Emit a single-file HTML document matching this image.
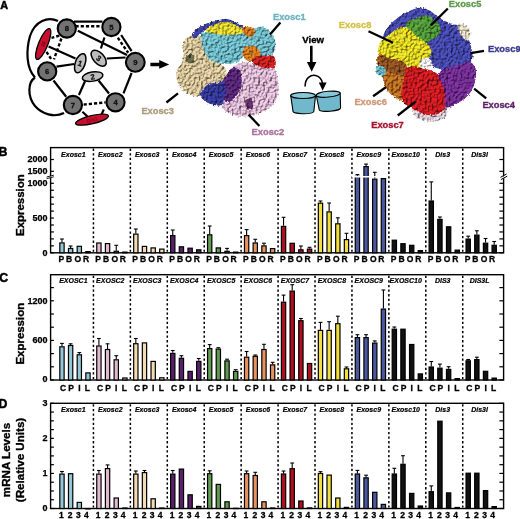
<!DOCTYPE html>
<html><head><meta charset="utf-8"><title>Exosome</title>
<style>html,body{margin:0;padding:0;background:#fff;}svg{display:block;will-change:transform;}svg text{font-family:"Liberation Sans",sans-serif;}</style>
</head><body>
<svg width="520" height="519" viewBox="0 0 520 519">
<rect width="520" height="519" fill="#fff"/>
<text x="0.2" y="8.7" font-family="Liberation Sans, sans-serif" font-weight="bold" font-size="10.8" stroke="#000" stroke-width="0.5">A</text>
<text x="-1.6" y="156.1" font-family="Liberation Sans, sans-serif" font-weight="bold" font-size="12.3" stroke="#000" stroke-width="0.5">B</text>
<text x="-0.8" y="282.1" font-family="Liberation Sans, sans-serif" font-weight="bold" font-size="12.3" stroke="#000" stroke-width="0.5">C</text>
<text x="-1.5" y="408.4" font-family="Liberation Sans, sans-serif" font-weight="bold" font-size="12.3" stroke="#000" stroke-width="0.5">D</text>
<rect x="50.6" y="147.6" width="453.0" height="105.20000000000002" fill="none" stroke="#000" stroke-width="1.4"/>
<line x1="93.43" y1="148.6" x2="93.43" y2="251.8" stroke="#000" stroke-width="1.5" stroke-dasharray="2.3,2.3"/>
<line x1="130.36" y1="148.6" x2="130.36" y2="251.8" stroke="#000" stroke-width="1.5" stroke-dasharray="2.3,2.3"/>
<line x1="167.29" y1="148.6" x2="167.29" y2="251.8" stroke="#000" stroke-width="1.5" stroke-dasharray="2.3,2.3"/>
<line x1="204.22" y1="148.6" x2="204.22" y2="251.8" stroke="#000" stroke-width="1.5" stroke-dasharray="2.3,2.3"/>
<line x1="241.15" y1="148.6" x2="241.15" y2="251.8" stroke="#000" stroke-width="1.5" stroke-dasharray="2.3,2.3"/>
<line x1="278.08" y1="148.6" x2="278.08" y2="251.8" stroke="#000" stroke-width="1.5" stroke-dasharray="2.3,2.3"/>
<line x1="315.01" y1="148.6" x2="315.01" y2="251.8" stroke="#000" stroke-width="1.5" stroke-dasharray="2.3,2.3"/>
<line x1="351.94" y1="148.6" x2="351.94" y2="251.8" stroke="#000" stroke-width="1.5" stroke-dasharray="2.3,2.3"/>
<line x1="388.87" y1="148.6" x2="388.87" y2="251.8" stroke="#000" stroke-width="1.5" stroke-dasharray="2.3,2.3"/>
<line x1="425.80" y1="148.6" x2="425.80" y2="251.8" stroke="#000" stroke-width="1.5" stroke-dasharray="2.3,2.3"/>
<line x1="462.73" y1="148.6" x2="462.73" y2="251.8" stroke="#000" stroke-width="1.5" stroke-dasharray="2.3,2.3"/>
<line x1="50.6" y1="252.80" x2="53.9" y2="252.80" stroke="#000" stroke-width="1.2"/>
<line x1="503.6" y1="252.80" x2="499.40000000000003" y2="252.80" stroke="#000" stroke-width="1.2"/>
<line x1="50.6" y1="245.85" x2="53.9" y2="245.85" stroke="#000" stroke-width="1.2"/>
<line x1="503.6" y1="245.85" x2="499.40000000000003" y2="245.85" stroke="#000" stroke-width="1.2"/>
<line x1="50.6" y1="238.90" x2="53.9" y2="238.90" stroke="#000" stroke-width="1.2"/>
<line x1="503.6" y1="238.90" x2="499.40000000000003" y2="238.90" stroke="#000" stroke-width="1.2"/>
<line x1="50.6" y1="231.95" x2="53.9" y2="231.95" stroke="#000" stroke-width="1.2"/>
<line x1="503.6" y1="231.95" x2="499.40000000000003" y2="231.95" stroke="#000" stroke-width="1.2"/>
<line x1="50.6" y1="225.00" x2="53.9" y2="225.00" stroke="#000" stroke-width="1.2"/>
<line x1="503.6" y1="225.00" x2="499.40000000000003" y2="225.00" stroke="#000" stroke-width="1.2"/>
<line x1="50.6" y1="218.05" x2="53.9" y2="218.05" stroke="#000" stroke-width="1.2"/>
<line x1="503.6" y1="218.05" x2="499.40000000000003" y2="218.05" stroke="#000" stroke-width="1.2"/>
<line x1="50.6" y1="211.10" x2="53.9" y2="211.10" stroke="#000" stroke-width="1.2"/>
<line x1="503.6" y1="211.10" x2="499.40000000000003" y2="211.10" stroke="#000" stroke-width="1.2"/>
<line x1="50.6" y1="204.15" x2="53.9" y2="204.15" stroke="#000" stroke-width="1.2"/>
<line x1="503.6" y1="204.15" x2="499.40000000000003" y2="204.15" stroke="#000" stroke-width="1.2"/>
<line x1="50.6" y1="197.20" x2="53.9" y2="197.20" stroke="#000" stroke-width="1.2"/>
<line x1="503.6" y1="197.20" x2="499.40000000000003" y2="197.20" stroke="#000" stroke-width="1.2"/>
<line x1="50.6" y1="190.25" x2="53.9" y2="190.25" stroke="#000" stroke-width="1.2"/>
<line x1="503.6" y1="190.25" x2="499.40000000000003" y2="190.25" stroke="#000" stroke-width="1.2"/>
<line x1="50.6" y1="183.30" x2="53.9" y2="183.30" stroke="#000" stroke-width="1.2"/>
<line x1="503.6" y1="183.30" x2="499.40000000000003" y2="183.30" stroke="#000" stroke-width="1.2"/>
<line x1="50.6" y1="171.30" x2="53.9" y2="171.30" stroke="#000" stroke-width="1.2"/>
<line x1="503.6" y1="171.30" x2="499.40000000000003" y2="171.30" stroke="#000" stroke-width="1.2"/>
<line x1="50.6" y1="159.50" x2="53.9" y2="159.50" stroke="#000" stroke-width="1.2"/>
<line x1="503.6" y1="159.50" x2="499.40000000000003" y2="159.50" stroke="#000" stroke-width="1.2"/>
<text x="47.6" y="162.14" font-family="Liberation Sans, sans-serif" font-weight="bold" font-size="9" text-anchor="end" stroke="#000" stroke-width="0.25">2000</text>
<text x="47.6" y="174.04" font-family="Liberation Sans, sans-serif" font-weight="bold" font-size="9" text-anchor="end" stroke="#000" stroke-width="0.25">1500</text>
<text x="47.6" y="185.64" font-family="Liberation Sans, sans-serif" font-weight="bold" font-size="9" text-anchor="end" stroke="#000" stroke-width="0.25">1000</text>
<text x="47.6" y="221.14" font-family="Liberation Sans, sans-serif" font-weight="bold" font-size="9" text-anchor="end" stroke="#000" stroke-width="0.25">500</text>
<text x="47.6" y="255.64" font-family="Liberation Sans, sans-serif" font-weight="bold" font-size="9" text-anchor="end" stroke="#000" stroke-width="0.25">0</text>
<text x="73.37" y="156.6" font-family="Liberation Sans, sans-serif" font-weight="bold" font-style="italic" font-size="7.0" text-anchor="middle" stroke="#000" stroke-width="0.2">Exosc1</text>
<text x="110.30" y="156.6" font-family="Liberation Sans, sans-serif" font-weight="bold" font-style="italic" font-size="7.0" text-anchor="middle" stroke="#000" stroke-width="0.2">Exosc2</text>
<text x="147.22" y="156.6" font-family="Liberation Sans, sans-serif" font-weight="bold" font-style="italic" font-size="7.0" text-anchor="middle" stroke="#000" stroke-width="0.2">Exosc3</text>
<text x="184.16" y="156.6" font-family="Liberation Sans, sans-serif" font-weight="bold" font-style="italic" font-size="7.0" text-anchor="middle" stroke="#000" stroke-width="0.2">Exosc4</text>
<text x="221.09" y="156.6" font-family="Liberation Sans, sans-serif" font-weight="bold" font-style="italic" font-size="7.0" text-anchor="middle" stroke="#000" stroke-width="0.2">Exosc5</text>
<text x="258.01" y="156.6" font-family="Liberation Sans, sans-serif" font-weight="bold" font-style="italic" font-size="7.0" text-anchor="middle" stroke="#000" stroke-width="0.2">Exosc6</text>
<text x="294.94" y="156.6" font-family="Liberation Sans, sans-serif" font-weight="bold" font-style="italic" font-size="7.0" text-anchor="middle" stroke="#000" stroke-width="0.2">Exosc7</text>
<text x="331.88" y="156.6" font-family="Liberation Sans, sans-serif" font-weight="bold" font-style="italic" font-size="7.0" text-anchor="middle" stroke="#000" stroke-width="0.2">Exosc8</text>
<text x="368.80" y="156.6" font-family="Liberation Sans, sans-serif" font-weight="bold" font-style="italic" font-size="7.0" text-anchor="middle" stroke="#000" stroke-width="0.2">Exosc9</text>
<text x="405.73" y="156.6" font-family="Liberation Sans, sans-serif" font-weight="bold" font-style="italic" font-size="7.0" text-anchor="middle" stroke="#000" stroke-width="0.2">Exosc10</text>
<text x="442.66" y="156.6" font-family="Liberation Sans, sans-serif" font-weight="bold" font-style="italic" font-size="7.0" text-anchor="middle" stroke="#000" stroke-width="0.2">Dis3</text>
<text x="479.59" y="156.6" font-family="Liberation Sans, sans-serif" font-weight="bold" font-style="italic" font-size="7.0" text-anchor="middle" stroke="#000" stroke-width="0.2">Dis3l</text>
<line x1="61.97" y1="242.30" x2="61.97" y2="239.00" stroke="#000" stroke-width="1.1"/>
<line x1="60.07" y1="239.00" x2="63.87" y2="239.00" stroke="#000" stroke-width="1.1"/>
<rect x="59.82" y="242.90" width="4.30" height="9.90" fill="#94c7d6" stroke="#000" stroke-width="1.2"/>
<line x1="70.62" y1="247.90" x2="70.62" y2="246.00" stroke="#000" stroke-width="1.1"/>
<line x1="68.72" y1="246.00" x2="72.52" y2="246.00" stroke="#000" stroke-width="1.1"/>
<rect x="68.47" y="248.50" width="4.30" height="4.30" fill="#94c7d6" stroke="#000" stroke-width="1.2"/>
<rect x="77.17" y="246.30" width="4.30" height="6.50" fill="#94c7d6" stroke="#000" stroke-width="1.2"/>
<rect x="85.82" y="251.60" width="4.30" height="1.20" fill="#94c7d6" stroke="#000" stroke-width="1.2"/>
<rect x="96.75" y="243.00" width="4.30" height="9.80" fill="#e3b9cf" stroke="#000" stroke-width="1.2"/>
<rect x="105.40" y="243.60" width="4.30" height="9.20" fill="#e3b9cf" stroke="#000" stroke-width="1.2"/>
<line x1="116.25" y1="250.70" x2="116.25" y2="245.30" stroke="#000" stroke-width="1.1"/>
<line x1="114.35" y1="245.30" x2="118.15" y2="245.30" stroke="#000" stroke-width="1.1"/>
<rect x="114.10" y="251.30" width="4.30" height="1.50" fill="#e3b9cf" stroke="#000" stroke-width="1.2"/>
<rect x="122.75" y="252.10" width="4.30" height="0.70" fill="#e3b9cf" stroke="#000" stroke-width="1.2"/>
<line x1="135.83" y1="233.50" x2="135.83" y2="229.00" stroke="#000" stroke-width="1.1"/>
<line x1="133.93" y1="229.00" x2="137.73" y2="229.00" stroke="#000" stroke-width="1.1"/>
<rect x="133.68" y="234.10" width="4.30" height="18.70" fill="#f5dbb3" stroke="#000" stroke-width="1.2"/>
<rect x="142.33" y="246.40" width="4.30" height="6.40" fill="#f5dbb3" stroke="#000" stroke-width="1.2"/>
<rect x="151.03" y="247.90" width="4.30" height="4.90" fill="#f5dbb3" stroke="#000" stroke-width="1.2"/>
<rect x="159.68" y="249.10" width="4.30" height="3.70" fill="#f5dbb3" stroke="#000" stroke-width="1.2"/>
<line x1="172.76" y1="235.00" x2="172.76" y2="230.00" stroke="#000" stroke-width="1.1"/>
<line x1="170.86" y1="230.00" x2="174.66" y2="230.00" stroke="#000" stroke-width="1.1"/>
<rect x="170.61" y="235.60" width="4.30" height="17.20" fill="#5a1f6c" stroke="#000" stroke-width="1.2"/>
<rect x="179.26" y="246.80" width="4.30" height="6.00" fill="#5a1f6c" stroke="#000" stroke-width="1.2"/>
<rect x="187.96" y="248.20" width="4.30" height="4.60" fill="#5a1f6c" stroke="#000" stroke-width="1.2"/>
<rect x="196.61" y="249.80" width="4.30" height="3.00" fill="#5a1f6c" stroke="#000" stroke-width="1.2"/>
<line x1="209.69" y1="234.20" x2="209.69" y2="226.00" stroke="#000" stroke-width="1.1"/>
<line x1="207.79" y1="226.00" x2="211.59" y2="226.00" stroke="#000" stroke-width="1.1"/>
<rect x="207.54" y="234.80" width="4.30" height="18.00" fill="#5f9b50" stroke="#000" stroke-width="1.2"/>
<rect x="216.19" y="247.90" width="4.30" height="4.90" fill="#5f9b50" stroke="#000" stroke-width="1.2"/>
<line x1="227.04" y1="250.70" x2="227.04" y2="248.40" stroke="#000" stroke-width="1.1"/>
<line x1="225.14" y1="248.40" x2="228.94" y2="248.40" stroke="#000" stroke-width="1.1"/>
<rect x="224.89" y="251.30" width="4.30" height="1.50" fill="#5f9b50" stroke="#000" stroke-width="1.2"/>
<rect x="233.54" y="252.10" width="4.30" height="0.70" fill="#5f9b50" stroke="#000" stroke-width="1.2"/>
<line x1="246.62" y1="235.00" x2="246.62" y2="229.60" stroke="#000" stroke-width="1.1"/>
<line x1="244.72" y1="229.60" x2="248.52" y2="229.60" stroke="#000" stroke-width="1.1"/>
<rect x="244.47" y="235.60" width="4.30" height="17.20" fill="#e8925f" stroke="#000" stroke-width="1.2"/>
<line x1="255.27" y1="242.40" x2="255.27" y2="239.30" stroke="#000" stroke-width="1.1"/>
<line x1="253.37" y1="239.30" x2="257.17" y2="239.30" stroke="#000" stroke-width="1.1"/>
<rect x="253.12" y="243.00" width="4.30" height="9.80" fill="#e8925f" stroke="#000" stroke-width="1.2"/>
<line x1="263.97" y1="245.30" x2="263.97" y2="243.20" stroke="#000" stroke-width="1.1"/>
<line x1="262.07" y1="243.20" x2="265.87" y2="243.20" stroke="#000" stroke-width="1.1"/>
<rect x="261.82" y="245.90" width="4.30" height="6.90" fill="#e8925f" stroke="#000" stroke-width="1.2"/>
<rect x="270.47" y="248.60" width="4.30" height="4.20" fill="#e8925f" stroke="#000" stroke-width="1.2"/>
<line x1="283.55" y1="225.80" x2="283.55" y2="217.30" stroke="#000" stroke-width="1.1"/>
<line x1="281.65" y1="217.30" x2="285.45" y2="217.30" stroke="#000" stroke-width="1.1"/>
<rect x="281.40" y="226.40" width="4.30" height="26.40" fill="#b0101e" stroke="#000" stroke-width="1.2"/>
<rect x="290.05" y="243.30" width="4.30" height="9.50" fill="#b0101e" stroke="#000" stroke-width="1.2"/>
<line x1="300.90" y1="249.20" x2="300.90" y2="246.00" stroke="#000" stroke-width="1.1"/>
<line x1="299.00" y1="246.00" x2="302.80" y2="246.00" stroke="#000" stroke-width="1.1"/>
<rect x="298.75" y="249.80" width="4.30" height="3.00" fill="#b0101e" stroke="#000" stroke-width="1.2"/>
<line x1="309.55" y1="248.50" x2="309.55" y2="247.30" stroke="#000" stroke-width="1.1"/>
<line x1="307.65" y1="247.30" x2="311.45" y2="247.30" stroke="#000" stroke-width="1.1"/>
<rect x="307.40" y="249.10" width="4.30" height="3.70" fill="#b0101e" stroke="#000" stroke-width="1.2"/>
<line x1="320.48" y1="202.60" x2="320.48" y2="201.00" stroke="#000" stroke-width="1.1"/>
<line x1="318.58" y1="201.00" x2="322.38" y2="201.00" stroke="#000" stroke-width="1.1"/>
<rect x="318.33" y="203.20" width="4.30" height="49.60" fill="#f2df3e" stroke="#000" stroke-width="1.2"/>
<line x1="329.13" y1="211.30" x2="329.13" y2="203.00" stroke="#000" stroke-width="1.1"/>
<line x1="327.23" y1="203.00" x2="331.03" y2="203.00" stroke="#000" stroke-width="1.1"/>
<rect x="326.98" y="211.90" width="4.30" height="40.90" fill="#f2df3e" stroke="#000" stroke-width="1.2"/>
<line x1="337.83" y1="223.20" x2="337.83" y2="217.80" stroke="#000" stroke-width="1.1"/>
<line x1="335.93" y1="217.80" x2="339.73" y2="217.80" stroke="#000" stroke-width="1.1"/>
<rect x="335.68" y="223.80" width="4.30" height="29.00" fill="#f2df3e" stroke="#000" stroke-width="1.2"/>
<line x1="346.48" y1="239.00" x2="346.48" y2="233.30" stroke="#000" stroke-width="1.1"/>
<line x1="344.58" y1="233.30" x2="348.38" y2="233.30" stroke="#000" stroke-width="1.1"/>
<rect x="344.33" y="239.60" width="4.30" height="13.20" fill="#f2df3e" stroke="#000" stroke-width="1.2"/>
<line x1="357.41" y1="175.80" x2="357.41" y2="174.60" stroke="#000" stroke-width="1.1"/>
<line x1="355.51" y1="174.60" x2="359.31" y2="174.60" stroke="#000" stroke-width="1.1"/>
<rect x="355.26" y="176.40" width="4.30" height="76.40" fill="#4a58a0" stroke="#000" stroke-width="1.2"/>
<line x1="366.06" y1="166.00" x2="366.06" y2="164.10" stroke="#000" stroke-width="1.1"/>
<line x1="364.16" y1="164.10" x2="367.96" y2="164.10" stroke="#000" stroke-width="1.1"/>
<rect x="363.91" y="166.60" width="4.30" height="86.20" fill="#4a58a0" stroke="#000" stroke-width="1.2"/>
<line x1="374.76" y1="178.60" x2="374.76" y2="172.30" stroke="#000" stroke-width="1.1"/>
<line x1="372.86" y1="172.30" x2="376.66" y2="172.30" stroke="#000" stroke-width="1.1"/>
<rect x="372.61" y="179.20" width="4.30" height="73.60" fill="#4a58a0" stroke="#000" stroke-width="1.2"/>
<rect x="381.26" y="178.60" width="4.30" height="74.20" fill="#4a58a0" stroke="#000" stroke-width="1.2"/>
<rect x="392.19" y="240.20" width="4.30" height="12.60" fill="#111" stroke="#000" stroke-width="1.2"/>
<rect x="400.84" y="243.70" width="4.30" height="9.10" fill="#111" stroke="#000" stroke-width="1.2"/>
<rect x="409.54" y="245.30" width="4.30" height="7.50" fill="#111" stroke="#000" stroke-width="1.2"/>
<rect x="418.19" y="250.60" width="4.30" height="2.20" fill="#111" stroke="#000" stroke-width="1.2"/>
<line x1="431.27" y1="200.40" x2="431.27" y2="181.90" stroke="#000" stroke-width="1.1"/>
<line x1="429.37" y1="181.90" x2="433.17" y2="181.90" stroke="#000" stroke-width="1.1"/>
<rect x="429.12" y="201.00" width="4.30" height="51.80" fill="#111" stroke="#000" stroke-width="1.2"/>
<line x1="439.92" y1="218.80" x2="439.92" y2="217.00" stroke="#000" stroke-width="1.1"/>
<line x1="438.02" y1="217.00" x2="441.82" y2="217.00" stroke="#000" stroke-width="1.1"/>
<rect x="437.77" y="219.40" width="4.30" height="33.40" fill="#111" stroke="#000" stroke-width="1.2"/>
<rect x="446.47" y="226.80" width="4.30" height="26.00" fill="#111" stroke="#000" stroke-width="1.2"/>
<rect x="455.12" y="250.10" width="4.30" height="2.70" fill="#111" stroke="#000" stroke-width="1.2"/>
<line x1="468.20" y1="238.50" x2="468.20" y2="236.20" stroke="#000" stroke-width="1.1"/>
<line x1="466.30" y1="236.20" x2="470.10" y2="236.20" stroke="#000" stroke-width="1.1"/>
<rect x="466.05" y="239.10" width="4.30" height="13.70" fill="#111" stroke="#000" stroke-width="1.2"/>
<line x1="476.85" y1="234.50" x2="476.85" y2="230.80" stroke="#000" stroke-width="1.1"/>
<line x1="474.95" y1="230.80" x2="478.75" y2="230.80" stroke="#000" stroke-width="1.1"/>
<rect x="474.70" y="235.10" width="4.30" height="17.70" fill="#111" stroke="#000" stroke-width="1.2"/>
<line x1="485.55" y1="242.60" x2="485.55" y2="238.50" stroke="#000" stroke-width="1.1"/>
<line x1="483.65" y1="238.50" x2="487.45" y2="238.50" stroke="#000" stroke-width="1.1"/>
<rect x="483.40" y="243.20" width="4.30" height="9.60" fill="#111" stroke="#000" stroke-width="1.2"/>
<line x1="494.20" y1="244.70" x2="494.20" y2="241.50" stroke="#000" stroke-width="1.1"/>
<line x1="492.30" y1="241.50" x2="496.10" y2="241.50" stroke="#000" stroke-width="1.1"/>
<rect x="492.05" y="245.30" width="4.30" height="7.50" fill="#111" stroke="#000" stroke-width="1.2"/>
<polygon points="351.5,176.0 388,176.0 388,177.5 351.5,177.5" fill="#fff"/>
<polygon points="49.1,176.6 52.1,175.9 52.1,177.4 49.1,178.1" fill="#fff"/>
<line x1="46.6" y1="177.0" x2="53.800000000000004" y2="175.2" stroke="#000" stroke-width="0.9"/>
<line x1="46.6" y1="178.6" x2="53.800000000000004" y2="176.8" stroke="#000" stroke-width="0.9"/>
<polygon points="502.1,177.2 505.1,175.6 505.1,177.4 502.1,179.0" fill="#fff"/>
<line x1="500.4" y1="177.4" x2="506.6" y2="174.0" stroke="#000" stroke-width="1.0"/>
<line x1="500.9" y1="179.6" x2="507.2" y2="176.2" stroke="#000" stroke-width="1.0"/>
<text x="61.27" y="262.3" font-family="Liberation Sans, sans-serif" font-weight="bold" font-size="8.5" text-anchor="middle" stroke="#000" stroke-width="0.3">P</text>
<text x="69.17" y="262.3" font-family="Liberation Sans, sans-serif" font-weight="bold" font-size="8.5" text-anchor="middle" stroke="#000" stroke-width="0.3">B</text>
<text x="77.77" y="262.3" font-family="Liberation Sans, sans-serif" font-weight="bold" font-size="8.5" text-anchor="middle" stroke="#000" stroke-width="0.3">O</text>
<text x="85.97" y="262.3" font-family="Liberation Sans, sans-serif" font-weight="bold" font-size="8.5" text-anchor="middle" stroke="#000" stroke-width="0.3">R</text>
<text x="98.19" y="262.3" font-family="Liberation Sans, sans-serif" font-weight="bold" font-size="8.5" text-anchor="middle" stroke="#000" stroke-width="0.3">P</text>
<text x="106.09" y="262.3" font-family="Liberation Sans, sans-serif" font-weight="bold" font-size="8.5" text-anchor="middle" stroke="#000" stroke-width="0.3">B</text>
<text x="114.69" y="262.3" font-family="Liberation Sans, sans-serif" font-weight="bold" font-size="8.5" text-anchor="middle" stroke="#000" stroke-width="0.3">O</text>
<text x="122.89" y="262.3" font-family="Liberation Sans, sans-serif" font-weight="bold" font-size="8.5" text-anchor="middle" stroke="#000" stroke-width="0.3">R</text>
<text x="135.12" y="262.3" font-family="Liberation Sans, sans-serif" font-weight="bold" font-size="8.5" text-anchor="middle" stroke="#000" stroke-width="0.3">P</text>
<text x="143.02" y="262.3" font-family="Liberation Sans, sans-serif" font-weight="bold" font-size="8.5" text-anchor="middle" stroke="#000" stroke-width="0.3">B</text>
<text x="151.62" y="262.3" font-family="Liberation Sans, sans-serif" font-weight="bold" font-size="8.5" text-anchor="middle" stroke="#000" stroke-width="0.3">O</text>
<text x="159.82" y="262.3" font-family="Liberation Sans, sans-serif" font-weight="bold" font-size="8.5" text-anchor="middle" stroke="#000" stroke-width="0.3">R</text>
<text x="172.06" y="262.3" font-family="Liberation Sans, sans-serif" font-weight="bold" font-size="8.5" text-anchor="middle" stroke="#000" stroke-width="0.3">P</text>
<text x="179.95" y="262.3" font-family="Liberation Sans, sans-serif" font-weight="bold" font-size="8.5" text-anchor="middle" stroke="#000" stroke-width="0.3">B</text>
<text x="188.56" y="262.3" font-family="Liberation Sans, sans-serif" font-weight="bold" font-size="8.5" text-anchor="middle" stroke="#000" stroke-width="0.3">O</text>
<text x="196.75" y="262.3" font-family="Liberation Sans, sans-serif" font-weight="bold" font-size="8.5" text-anchor="middle" stroke="#000" stroke-width="0.3">R</text>
<text x="208.99" y="262.3" font-family="Liberation Sans, sans-serif" font-weight="bold" font-size="8.5" text-anchor="middle" stroke="#000" stroke-width="0.3">P</text>
<text x="216.88" y="262.3" font-family="Liberation Sans, sans-serif" font-weight="bold" font-size="8.5" text-anchor="middle" stroke="#000" stroke-width="0.3">B</text>
<text x="225.49" y="262.3" font-family="Liberation Sans, sans-serif" font-weight="bold" font-size="8.5" text-anchor="middle" stroke="#000" stroke-width="0.3">O</text>
<text x="233.69" y="262.3" font-family="Liberation Sans, sans-serif" font-weight="bold" font-size="8.5" text-anchor="middle" stroke="#000" stroke-width="0.3">R</text>
<text x="245.92" y="262.3" font-family="Liberation Sans, sans-serif" font-weight="bold" font-size="8.5" text-anchor="middle" stroke="#000" stroke-width="0.3">P</text>
<text x="253.81" y="262.3" font-family="Liberation Sans, sans-serif" font-weight="bold" font-size="8.5" text-anchor="middle" stroke="#000" stroke-width="0.3">B</text>
<text x="262.42" y="262.3" font-family="Liberation Sans, sans-serif" font-weight="bold" font-size="8.5" text-anchor="middle" stroke="#000" stroke-width="0.3">O</text>
<text x="270.62" y="262.3" font-family="Liberation Sans, sans-serif" font-weight="bold" font-size="8.5" text-anchor="middle" stroke="#000" stroke-width="0.3">R</text>
<text x="282.84" y="262.3" font-family="Liberation Sans, sans-serif" font-weight="bold" font-size="8.5" text-anchor="middle" stroke="#000" stroke-width="0.3">P</text>
<text x="290.74" y="262.3" font-family="Liberation Sans, sans-serif" font-weight="bold" font-size="8.5" text-anchor="middle" stroke="#000" stroke-width="0.3">B</text>
<text x="299.34" y="262.3" font-family="Liberation Sans, sans-serif" font-weight="bold" font-size="8.5" text-anchor="middle" stroke="#000" stroke-width="0.3">O</text>
<text x="307.54" y="262.3" font-family="Liberation Sans, sans-serif" font-weight="bold" font-size="8.5" text-anchor="middle" stroke="#000" stroke-width="0.3">R</text>
<text x="319.78" y="262.3" font-family="Liberation Sans, sans-serif" font-weight="bold" font-size="8.5" text-anchor="middle" stroke="#000" stroke-width="0.3">P</text>
<text x="327.68" y="262.3" font-family="Liberation Sans, sans-serif" font-weight="bold" font-size="8.5" text-anchor="middle" stroke="#000" stroke-width="0.3">B</text>
<text x="336.28" y="262.3" font-family="Liberation Sans, sans-serif" font-weight="bold" font-size="8.5" text-anchor="middle" stroke="#000" stroke-width="0.3">O</text>
<text x="344.48" y="262.3" font-family="Liberation Sans, sans-serif" font-weight="bold" font-size="8.5" text-anchor="middle" stroke="#000" stroke-width="0.3">R</text>
<text x="356.70" y="262.3" font-family="Liberation Sans, sans-serif" font-weight="bold" font-size="8.5" text-anchor="middle" stroke="#000" stroke-width="0.3">P</text>
<text x="364.60" y="262.3" font-family="Liberation Sans, sans-serif" font-weight="bold" font-size="8.5" text-anchor="middle" stroke="#000" stroke-width="0.3">B</text>
<text x="373.20" y="262.3" font-family="Liberation Sans, sans-serif" font-weight="bold" font-size="8.5" text-anchor="middle" stroke="#000" stroke-width="0.3">O</text>
<text x="381.40" y="262.3" font-family="Liberation Sans, sans-serif" font-weight="bold" font-size="8.5" text-anchor="middle" stroke="#000" stroke-width="0.3">R</text>
<text x="393.63" y="262.3" font-family="Liberation Sans, sans-serif" font-weight="bold" font-size="8.5" text-anchor="middle" stroke="#000" stroke-width="0.3">P</text>
<text x="401.53" y="262.3" font-family="Liberation Sans, sans-serif" font-weight="bold" font-size="8.5" text-anchor="middle" stroke="#000" stroke-width="0.3">B</text>
<text x="410.13" y="262.3" font-family="Liberation Sans, sans-serif" font-weight="bold" font-size="8.5" text-anchor="middle" stroke="#000" stroke-width="0.3">O</text>
<text x="418.33" y="262.3" font-family="Liberation Sans, sans-serif" font-weight="bold" font-size="8.5" text-anchor="middle" stroke="#000" stroke-width="0.3">R</text>
<text x="430.56" y="262.3" font-family="Liberation Sans, sans-serif" font-weight="bold" font-size="8.5" text-anchor="middle" stroke="#000" stroke-width="0.3">P</text>
<text x="438.46" y="262.3" font-family="Liberation Sans, sans-serif" font-weight="bold" font-size="8.5" text-anchor="middle" stroke="#000" stroke-width="0.3">B</text>
<text x="447.06" y="262.3" font-family="Liberation Sans, sans-serif" font-weight="bold" font-size="8.5" text-anchor="middle" stroke="#000" stroke-width="0.3">O</text>
<text x="455.26" y="262.3" font-family="Liberation Sans, sans-serif" font-weight="bold" font-size="8.5" text-anchor="middle" stroke="#000" stroke-width="0.3">R</text>
<text x="467.50" y="262.3" font-family="Liberation Sans, sans-serif" font-weight="bold" font-size="8.5" text-anchor="middle" stroke="#000" stroke-width="0.3">P</text>
<text x="475.39" y="262.3" font-family="Liberation Sans, sans-serif" font-weight="bold" font-size="8.5" text-anchor="middle" stroke="#000" stroke-width="0.3">B</text>
<text x="484.00" y="262.3" font-family="Liberation Sans, sans-serif" font-weight="bold" font-size="8.5" text-anchor="middle" stroke="#000" stroke-width="0.3">O</text>
<text x="492.19" y="262.3" font-family="Liberation Sans, sans-serif" font-weight="bold" font-size="8.5" text-anchor="middle" stroke="#000" stroke-width="0.3">R</text>
<text transform="translate(23.60,205.10) rotate(-90)" font-family="Liberation Sans, sans-serif" font-weight="bold" font-size="11.45" text-anchor="middle" stroke="#000" stroke-width="0.35">Expression</text>
<rect x="50.6" y="274.7" width="453.0" height="105.30000000000001" fill="none" stroke="#000" stroke-width="1.4"/>
<line x1="93.43" y1="275.7" x2="93.43" y2="379.0" stroke="#000" stroke-width="1.5" stroke-dasharray="2.3,2.3"/>
<line x1="130.36" y1="275.7" x2="130.36" y2="379.0" stroke="#000" stroke-width="1.5" stroke-dasharray="2.3,2.3"/>
<line x1="167.29" y1="275.7" x2="167.29" y2="379.0" stroke="#000" stroke-width="1.5" stroke-dasharray="2.3,2.3"/>
<line x1="204.22" y1="275.7" x2="204.22" y2="379.0" stroke="#000" stroke-width="1.5" stroke-dasharray="2.3,2.3"/>
<line x1="241.15" y1="275.7" x2="241.15" y2="379.0" stroke="#000" stroke-width="1.5" stroke-dasharray="2.3,2.3"/>
<line x1="278.08" y1="275.7" x2="278.08" y2="379.0" stroke="#000" stroke-width="1.5" stroke-dasharray="2.3,2.3"/>
<line x1="315.01" y1="275.7" x2="315.01" y2="379.0" stroke="#000" stroke-width="1.5" stroke-dasharray="2.3,2.3"/>
<line x1="351.94" y1="275.7" x2="351.94" y2="379.0" stroke="#000" stroke-width="1.5" stroke-dasharray="2.3,2.3"/>
<line x1="388.87" y1="275.7" x2="388.87" y2="379.0" stroke="#000" stroke-width="1.5" stroke-dasharray="2.3,2.3"/>
<line x1="425.80" y1="275.7" x2="425.80" y2="379.0" stroke="#000" stroke-width="1.5" stroke-dasharray="2.3,2.3"/>
<line x1="462.73" y1="275.7" x2="462.73" y2="379.0" stroke="#000" stroke-width="1.5" stroke-dasharray="2.3,2.3"/>
<line x1="50.6" y1="380.00" x2="53.9" y2="380.00" stroke="#000" stroke-width="1.2"/>
<line x1="503.6" y1="380.00" x2="499.40000000000003" y2="380.00" stroke="#000" stroke-width="1.2"/>
<line x1="50.6" y1="366.80" x2="53.9" y2="366.80" stroke="#000" stroke-width="1.2"/>
<line x1="503.6" y1="366.80" x2="499.40000000000003" y2="366.80" stroke="#000" stroke-width="1.2"/>
<line x1="50.6" y1="353.60" x2="53.9" y2="353.60" stroke="#000" stroke-width="1.2"/>
<line x1="503.6" y1="353.60" x2="499.40000000000003" y2="353.60" stroke="#000" stroke-width="1.2"/>
<line x1="50.6" y1="340.40" x2="53.9" y2="340.40" stroke="#000" stroke-width="1.2"/>
<line x1="503.6" y1="340.40" x2="499.40000000000003" y2="340.40" stroke="#000" stroke-width="1.2"/>
<line x1="50.6" y1="327.20" x2="53.9" y2="327.20" stroke="#000" stroke-width="1.2"/>
<line x1="503.6" y1="327.20" x2="499.40000000000003" y2="327.20" stroke="#000" stroke-width="1.2"/>
<line x1="50.6" y1="314.00" x2="53.9" y2="314.00" stroke="#000" stroke-width="1.2"/>
<line x1="503.6" y1="314.00" x2="499.40000000000003" y2="314.00" stroke="#000" stroke-width="1.2"/>
<line x1="50.6" y1="300.80" x2="53.9" y2="300.80" stroke="#000" stroke-width="1.2"/>
<line x1="503.6" y1="300.80" x2="499.40000000000003" y2="300.80" stroke="#000" stroke-width="1.2"/>
<line x1="50.6" y1="287.60" x2="53.9" y2="287.60" stroke="#000" stroke-width="1.2"/>
<line x1="503.6" y1="287.60" x2="499.40000000000003" y2="287.60" stroke="#000" stroke-width="1.2"/>
<text x="47.6" y="304.04" font-family="Liberation Sans, sans-serif" font-weight="bold" font-size="9" text-anchor="end" stroke="#000" stroke-width="0.25">1200</text>
<text x="47.6" y="343.14" font-family="Liberation Sans, sans-serif" font-weight="bold" font-size="9" text-anchor="end" stroke="#000" stroke-width="0.25">600</text>
<text x="47.6" y="382.24" font-family="Liberation Sans, sans-serif" font-weight="bold" font-size="9" text-anchor="end" stroke="#000" stroke-width="0.25">0</text>
<text x="73.37" y="282.8" font-family="Liberation Sans, sans-serif" font-weight="bold" font-style="italic" font-size="7.0" text-anchor="middle" stroke="#000" stroke-width="0.2">EXOSC1</text>
<text x="110.30" y="282.8" font-family="Liberation Sans, sans-serif" font-weight="bold" font-style="italic" font-size="7.0" text-anchor="middle" stroke="#000" stroke-width="0.2">EXOSC2</text>
<text x="147.22" y="282.8" font-family="Liberation Sans, sans-serif" font-weight="bold" font-style="italic" font-size="7.0" text-anchor="middle" stroke="#000" stroke-width="0.2">EXOSC3</text>
<text x="184.16" y="282.8" font-family="Liberation Sans, sans-serif" font-weight="bold" font-style="italic" font-size="7.0" text-anchor="middle" stroke="#000" stroke-width="0.2">EXOSC4</text>
<text x="221.09" y="282.8" font-family="Liberation Sans, sans-serif" font-weight="bold" font-style="italic" font-size="7.0" text-anchor="middle" stroke="#000" stroke-width="0.2">EXOSC5</text>
<text x="258.01" y="282.8" font-family="Liberation Sans, sans-serif" font-weight="bold" font-style="italic" font-size="7.0" text-anchor="middle" stroke="#000" stroke-width="0.2">EXOSC6</text>
<text x="294.94" y="282.8" font-family="Liberation Sans, sans-serif" font-weight="bold" font-style="italic" font-size="7.0" text-anchor="middle" stroke="#000" stroke-width="0.2">EXOSC7</text>
<text x="331.88" y="282.8" font-family="Liberation Sans, sans-serif" font-weight="bold" font-style="italic" font-size="7.0" text-anchor="middle" stroke="#000" stroke-width="0.2">EXOSC8</text>
<text x="368.80" y="282.8" font-family="Liberation Sans, sans-serif" font-weight="bold" font-style="italic" font-size="7.0" text-anchor="middle" stroke="#000" stroke-width="0.2">EXOSC9</text>
<text x="405.73" y="282.8" font-family="Liberation Sans, sans-serif" font-weight="bold" font-style="italic" font-size="7.0" text-anchor="middle" stroke="#000" stroke-width="0.2">EXOSC10</text>
<text x="442.66" y="282.8" font-family="Liberation Sans, sans-serif" font-weight="bold" font-style="italic" font-size="7.0" text-anchor="middle" stroke="#000" stroke-width="0.2">DIS3</text>
<text x="479.59" y="282.8" font-family="Liberation Sans, sans-serif" font-weight="bold" font-style="italic" font-size="7.0" text-anchor="middle" stroke="#000" stroke-width="0.2">DIS3L</text>
<line x1="61.97" y1="346.20" x2="61.97" y2="343.40" stroke="#000" stroke-width="1.1"/>
<line x1="60.07" y1="343.40" x2="63.87" y2="343.40" stroke="#000" stroke-width="1.1"/>
<rect x="59.82" y="346.80" width="4.30" height="33.20" fill="#94c7d6" stroke="#000" stroke-width="1.2"/>
<line x1="70.62" y1="344.90" x2="70.62" y2="343.80" stroke="#000" stroke-width="1.1"/>
<line x1="68.72" y1="343.80" x2="72.52" y2="343.80" stroke="#000" stroke-width="1.1"/>
<rect x="68.47" y="345.50" width="4.30" height="34.50" fill="#94c7d6" stroke="#000" stroke-width="1.2"/>
<line x1="79.32" y1="354.20" x2="79.32" y2="352.60" stroke="#000" stroke-width="1.1"/>
<line x1="77.42" y1="352.60" x2="81.22" y2="352.60" stroke="#000" stroke-width="1.1"/>
<rect x="77.17" y="354.80" width="4.30" height="25.20" fill="#94c7d6" stroke="#000" stroke-width="1.2"/>
<rect x="85.82" y="372.90" width="4.30" height="7.10" fill="#94c7d6" stroke="#000" stroke-width="1.2"/>
<line x1="98.90" y1="345.40" x2="98.90" y2="338.50" stroke="#000" stroke-width="1.1"/>
<line x1="97.00" y1="338.50" x2="100.80" y2="338.50" stroke="#000" stroke-width="1.1"/>
<rect x="96.75" y="346.00" width="4.30" height="34.00" fill="#e3b9cf" stroke="#000" stroke-width="1.2"/>
<line x1="107.55" y1="348.90" x2="107.55" y2="343.80" stroke="#000" stroke-width="1.1"/>
<line x1="105.65" y1="343.80" x2="109.45" y2="343.80" stroke="#000" stroke-width="1.1"/>
<rect x="105.40" y="349.50" width="4.30" height="30.50" fill="#e3b9cf" stroke="#000" stroke-width="1.2"/>
<line x1="116.25" y1="359.20" x2="116.25" y2="355.70" stroke="#000" stroke-width="1.1"/>
<line x1="114.35" y1="355.70" x2="118.15" y2="355.70" stroke="#000" stroke-width="1.1"/>
<rect x="114.10" y="359.80" width="4.30" height="20.20" fill="#e3b9cf" stroke="#000" stroke-width="1.2"/>
<rect x="122.75" y="378.00" width="4.30" height="2.00" fill="#e3b9cf" stroke="#000" stroke-width="1.2"/>
<line x1="135.83" y1="343.10" x2="135.83" y2="338.50" stroke="#000" stroke-width="1.1"/>
<line x1="133.93" y1="338.50" x2="137.73" y2="338.50" stroke="#000" stroke-width="1.1"/>
<rect x="133.68" y="343.70" width="4.30" height="36.30" fill="#f5dbb3" stroke="#000" stroke-width="1.2"/>
<rect x="142.33" y="342.90" width="4.30" height="37.10" fill="#f5dbb3" stroke="#000" stroke-width="1.2"/>
<rect x="151.03" y="361.40" width="4.30" height="18.60" fill="#f5dbb3" stroke="#000" stroke-width="1.2"/>
<rect x="159.68" y="377.80" width="4.30" height="2.20" fill="#f5dbb3" stroke="#000" stroke-width="1.2"/>
<line x1="172.76" y1="352.80" x2="172.76" y2="350.50" stroke="#000" stroke-width="1.1"/>
<line x1="170.86" y1="350.50" x2="174.66" y2="350.50" stroke="#000" stroke-width="1.1"/>
<rect x="170.61" y="353.40" width="4.30" height="26.60" fill="#5a1f6c" stroke="#000" stroke-width="1.2"/>
<line x1="181.41" y1="357.70" x2="181.41" y2="355.70" stroke="#000" stroke-width="1.1"/>
<line x1="179.51" y1="355.70" x2="183.31" y2="355.70" stroke="#000" stroke-width="1.1"/>
<rect x="179.26" y="358.30" width="4.30" height="21.70" fill="#5a1f6c" stroke="#000" stroke-width="1.2"/>
<rect x="187.96" y="371.40" width="4.30" height="8.60" fill="#5a1f6c" stroke="#000" stroke-width="1.2"/>
<line x1="198.76" y1="360.80" x2="198.76" y2="358.50" stroke="#000" stroke-width="1.1"/>
<line x1="196.86" y1="358.50" x2="200.66" y2="358.50" stroke="#000" stroke-width="1.1"/>
<rect x="196.61" y="361.40" width="4.30" height="18.60" fill="#5a1f6c" stroke="#000" stroke-width="1.2"/>
<line x1="209.69" y1="348.00" x2="209.69" y2="344.60" stroke="#000" stroke-width="1.1"/>
<line x1="207.79" y1="344.60" x2="211.59" y2="344.60" stroke="#000" stroke-width="1.1"/>
<rect x="207.54" y="348.60" width="4.30" height="31.40" fill="#5f9b50" stroke="#000" stroke-width="1.2"/>
<line x1="218.34" y1="348.50" x2="218.34" y2="347.70" stroke="#000" stroke-width="1.1"/>
<line x1="216.44" y1="347.70" x2="220.24" y2="347.70" stroke="#000" stroke-width="1.1"/>
<rect x="216.19" y="349.10" width="4.30" height="30.90" fill="#5f9b50" stroke="#000" stroke-width="1.2"/>
<line x1="227.04" y1="360.30" x2="227.04" y2="359.20" stroke="#000" stroke-width="1.1"/>
<line x1="225.14" y1="359.20" x2="228.94" y2="359.20" stroke="#000" stroke-width="1.1"/>
<rect x="224.89" y="360.90" width="4.30" height="19.10" fill="#5f9b50" stroke="#000" stroke-width="1.2"/>
<line x1="235.69" y1="370.80" x2="235.69" y2="369.70" stroke="#000" stroke-width="1.1"/>
<line x1="233.79" y1="369.70" x2="237.59" y2="369.70" stroke="#000" stroke-width="1.1"/>
<rect x="233.54" y="371.40" width="4.30" height="8.60" fill="#5f9b50" stroke="#000" stroke-width="1.2"/>
<line x1="246.62" y1="356.60" x2="246.62" y2="351.50" stroke="#000" stroke-width="1.1"/>
<line x1="244.72" y1="351.50" x2="248.52" y2="351.50" stroke="#000" stroke-width="1.1"/>
<rect x="244.47" y="357.20" width="4.30" height="22.80" fill="#e8925f" stroke="#000" stroke-width="1.2"/>
<line x1="255.27" y1="355.70" x2="255.27" y2="355.00" stroke="#000" stroke-width="1.1"/>
<line x1="253.37" y1="355.00" x2="257.17" y2="355.00" stroke="#000" stroke-width="1.1"/>
<rect x="253.12" y="356.30" width="4.30" height="23.70" fill="#e8925f" stroke="#000" stroke-width="1.2"/>
<line x1="263.97" y1="348.90" x2="263.97" y2="344.30" stroke="#000" stroke-width="1.1"/>
<line x1="262.07" y1="344.30" x2="265.87" y2="344.30" stroke="#000" stroke-width="1.1"/>
<rect x="261.82" y="349.50" width="4.30" height="30.50" fill="#e8925f" stroke="#000" stroke-width="1.2"/>
<line x1="272.62" y1="364.30" x2="272.62" y2="362.30" stroke="#000" stroke-width="1.1"/>
<line x1="270.72" y1="362.30" x2="274.52" y2="362.30" stroke="#000" stroke-width="1.1"/>
<rect x="270.47" y="364.90" width="4.30" height="15.10" fill="#e8925f" stroke="#000" stroke-width="1.2"/>
<line x1="283.55" y1="301.60" x2="283.55" y2="295.10" stroke="#000" stroke-width="1.1"/>
<line x1="281.65" y1="295.10" x2="285.45" y2="295.10" stroke="#000" stroke-width="1.1"/>
<rect x="281.40" y="302.20" width="4.30" height="77.80" fill="#b0101e" stroke="#000" stroke-width="1.2"/>
<line x1="292.20" y1="290.50" x2="292.20" y2="284.70" stroke="#000" stroke-width="1.1"/>
<line x1="290.30" y1="284.70" x2="294.10" y2="284.70" stroke="#000" stroke-width="1.1"/>
<rect x="290.05" y="291.10" width="4.30" height="88.90" fill="#b0101e" stroke="#000" stroke-width="1.2"/>
<line x1="300.90" y1="320.10" x2="300.90" y2="318.50" stroke="#000" stroke-width="1.1"/>
<line x1="299.00" y1="318.50" x2="302.80" y2="318.50" stroke="#000" stroke-width="1.1"/>
<rect x="298.75" y="320.70" width="4.30" height="59.30" fill="#b0101e" stroke="#000" stroke-width="1.2"/>
<rect x="307.40" y="363.50" width="4.30" height="16.50" fill="#b0101e" stroke="#000" stroke-width="1.2"/>
<line x1="320.48" y1="329.80" x2="320.48" y2="322.40" stroke="#000" stroke-width="1.1"/>
<line x1="318.58" y1="322.40" x2="322.38" y2="322.40" stroke="#000" stroke-width="1.1"/>
<rect x="318.33" y="330.40" width="4.30" height="49.60" fill="#f2df3e" stroke="#000" stroke-width="1.2"/>
<line x1="329.13" y1="329.80" x2="329.13" y2="321.70" stroke="#000" stroke-width="1.1"/>
<line x1="327.23" y1="321.70" x2="331.03" y2="321.70" stroke="#000" stroke-width="1.1"/>
<rect x="326.98" y="330.40" width="4.30" height="49.60" fill="#f2df3e" stroke="#000" stroke-width="1.2"/>
<line x1="337.83" y1="323.10" x2="337.83" y2="316.20" stroke="#000" stroke-width="1.1"/>
<line x1="335.93" y1="316.20" x2="339.73" y2="316.20" stroke="#000" stroke-width="1.1"/>
<rect x="335.68" y="323.70" width="4.30" height="56.30" fill="#f2df3e" stroke="#000" stroke-width="1.2"/>
<line x1="346.48" y1="368.20" x2="346.48" y2="367.00" stroke="#000" stroke-width="1.1"/>
<line x1="344.58" y1="367.00" x2="348.38" y2="367.00" stroke="#000" stroke-width="1.1"/>
<rect x="344.33" y="368.80" width="4.30" height="11.20" fill="#f2df3e" stroke="#000" stroke-width="1.2"/>
<line x1="357.41" y1="337.00" x2="357.41" y2="334.70" stroke="#000" stroke-width="1.1"/>
<line x1="355.51" y1="334.70" x2="359.31" y2="334.70" stroke="#000" stroke-width="1.1"/>
<rect x="355.26" y="337.60" width="4.30" height="42.40" fill="#4a58a0" stroke="#000" stroke-width="1.2"/>
<line x1="366.06" y1="337.00" x2="366.06" y2="334.70" stroke="#000" stroke-width="1.1"/>
<line x1="364.16" y1="334.70" x2="367.96" y2="334.70" stroke="#000" stroke-width="1.1"/>
<rect x="363.91" y="337.60" width="4.30" height="42.40" fill="#4a58a0" stroke="#000" stroke-width="1.2"/>
<line x1="374.76" y1="342.50" x2="374.76" y2="340.90" stroke="#000" stroke-width="1.1"/>
<line x1="372.86" y1="340.90" x2="376.66" y2="340.90" stroke="#000" stroke-width="1.1"/>
<rect x="372.61" y="343.10" width="4.30" height="36.90" fill="#4a58a0" stroke="#000" stroke-width="1.2"/>
<line x1="383.41" y1="308.50" x2="383.41" y2="290.00" stroke="#000" stroke-width="1.1"/>
<line x1="381.51" y1="290.00" x2="385.31" y2="290.00" stroke="#000" stroke-width="1.1"/>
<rect x="381.26" y="309.10" width="4.30" height="70.90" fill="#4a58a0" stroke="#000" stroke-width="1.2"/>
<line x1="394.34" y1="328.60" x2="394.34" y2="327.00" stroke="#000" stroke-width="1.1"/>
<line x1="392.44" y1="327.00" x2="396.24" y2="327.00" stroke="#000" stroke-width="1.1"/>
<rect x="392.19" y="329.20" width="4.30" height="50.80" fill="#111" stroke="#000" stroke-width="1.2"/>
<rect x="400.84" y="329.20" width="4.30" height="50.80" fill="#111" stroke="#000" stroke-width="1.2"/>
<rect x="409.54" y="344.50" width="4.30" height="35.50" fill="#111" stroke="#000" stroke-width="1.2"/>
<rect x="418.19" y="373.90" width="4.30" height="6.10" fill="#111" stroke="#000" stroke-width="1.2"/>
<line x1="431.27" y1="366.40" x2="431.27" y2="361.50" stroke="#000" stroke-width="1.1"/>
<line x1="429.37" y1="361.50" x2="433.17" y2="361.50" stroke="#000" stroke-width="1.1"/>
<rect x="429.12" y="367.00" width="4.30" height="13.00" fill="#111" stroke="#000" stroke-width="1.2"/>
<line x1="439.92" y1="367.60" x2="439.92" y2="364.10" stroke="#000" stroke-width="1.1"/>
<line x1="438.02" y1="364.10" x2="441.82" y2="364.10" stroke="#000" stroke-width="1.1"/>
<rect x="437.77" y="368.20" width="4.30" height="11.80" fill="#111" stroke="#000" stroke-width="1.2"/>
<line x1="448.62" y1="368.80" x2="448.62" y2="366.70" stroke="#000" stroke-width="1.1"/>
<line x1="446.72" y1="366.70" x2="450.52" y2="366.70" stroke="#000" stroke-width="1.1"/>
<rect x="446.47" y="369.40" width="4.30" height="10.60" fill="#111" stroke="#000" stroke-width="1.2"/>
<rect x="455.12" y="378.60" width="4.30" height="1.40" fill="#111" stroke="#000" stroke-width="1.2"/>
<line x1="468.20" y1="360.20" x2="468.20" y2="359.50" stroke="#000" stroke-width="1.1"/>
<line x1="466.30" y1="359.50" x2="470.10" y2="359.50" stroke="#000" stroke-width="1.1"/>
<rect x="466.05" y="360.80" width="4.30" height="19.20" fill="#111" stroke="#000" stroke-width="1.2"/>
<line x1="476.85" y1="359.00" x2="476.85" y2="357.20" stroke="#000" stroke-width="1.1"/>
<line x1="474.95" y1="357.20" x2="478.75" y2="357.20" stroke="#000" stroke-width="1.1"/>
<rect x="474.70" y="359.60" width="4.30" height="20.40" fill="#111" stroke="#000" stroke-width="1.2"/>
<rect x="483.40" y="371.30" width="4.30" height="8.70" fill="#111" stroke="#000" stroke-width="1.2"/>
<rect x="492.05" y="378.10" width="4.30" height="1.90" fill="#111" stroke="#000" stroke-width="1.2"/>
<text x="63.17" y="390.9" font-family="Liberation Sans, sans-serif" font-weight="bold" font-size="8.5" text-anchor="middle" stroke="#000" stroke-width="0.3">C</text>
<text x="71.17" y="390.9" font-family="Liberation Sans, sans-serif" font-weight="bold" font-size="8.5" text-anchor="middle" stroke="#000" stroke-width="0.3">P</text>
<text x="79.37" y="390.9" font-family="Liberation Sans, sans-serif" font-weight="bold" font-size="8.5" text-anchor="middle" stroke="#000" stroke-width="0.3">I</text>
<text x="87.47" y="390.9" font-family="Liberation Sans, sans-serif" font-weight="bold" font-size="8.5" text-anchor="middle" stroke="#000" stroke-width="0.3">L</text>
<text x="100.09" y="390.9" font-family="Liberation Sans, sans-serif" font-weight="bold" font-size="8.5" text-anchor="middle" stroke="#000" stroke-width="0.3">C</text>
<text x="108.09" y="390.9" font-family="Liberation Sans, sans-serif" font-weight="bold" font-size="8.5" text-anchor="middle" stroke="#000" stroke-width="0.3">P</text>
<text x="116.30" y="390.9" font-family="Liberation Sans, sans-serif" font-weight="bold" font-size="8.5" text-anchor="middle" stroke="#000" stroke-width="0.3">I</text>
<text x="124.39" y="390.9" font-family="Liberation Sans, sans-serif" font-weight="bold" font-size="8.5" text-anchor="middle" stroke="#000" stroke-width="0.3">L</text>
<text x="137.02" y="390.9" font-family="Liberation Sans, sans-serif" font-weight="bold" font-size="8.5" text-anchor="middle" stroke="#000" stroke-width="0.3">C</text>
<text x="145.02" y="390.9" font-family="Liberation Sans, sans-serif" font-weight="bold" font-size="8.5" text-anchor="middle" stroke="#000" stroke-width="0.3">P</text>
<text x="153.22" y="390.9" font-family="Liberation Sans, sans-serif" font-weight="bold" font-size="8.5" text-anchor="middle" stroke="#000" stroke-width="0.3">I</text>
<text x="161.32" y="390.9" font-family="Liberation Sans, sans-serif" font-weight="bold" font-size="8.5" text-anchor="middle" stroke="#000" stroke-width="0.3">L</text>
<text x="173.95" y="390.9" font-family="Liberation Sans, sans-serif" font-weight="bold" font-size="8.5" text-anchor="middle" stroke="#000" stroke-width="0.3">C</text>
<text x="181.95" y="390.9" font-family="Liberation Sans, sans-serif" font-weight="bold" font-size="8.5" text-anchor="middle" stroke="#000" stroke-width="0.3">P</text>
<text x="190.16" y="390.9" font-family="Liberation Sans, sans-serif" font-weight="bold" font-size="8.5" text-anchor="middle" stroke="#000" stroke-width="0.3">I</text>
<text x="198.25" y="390.9" font-family="Liberation Sans, sans-serif" font-weight="bold" font-size="8.5" text-anchor="middle" stroke="#000" stroke-width="0.3">L</text>
<text x="210.88" y="390.9" font-family="Liberation Sans, sans-serif" font-weight="bold" font-size="8.5" text-anchor="middle" stroke="#000" stroke-width="0.3">C</text>
<text x="218.88" y="390.9" font-family="Liberation Sans, sans-serif" font-weight="bold" font-size="8.5" text-anchor="middle" stroke="#000" stroke-width="0.3">P</text>
<text x="227.09" y="390.9" font-family="Liberation Sans, sans-serif" font-weight="bold" font-size="8.5" text-anchor="middle" stroke="#000" stroke-width="0.3">I</text>
<text x="235.19" y="390.9" font-family="Liberation Sans, sans-serif" font-weight="bold" font-size="8.5" text-anchor="middle" stroke="#000" stroke-width="0.3">L</text>
<text x="247.81" y="390.9" font-family="Liberation Sans, sans-serif" font-weight="bold" font-size="8.5" text-anchor="middle" stroke="#000" stroke-width="0.3">C</text>
<text x="255.81" y="390.9" font-family="Liberation Sans, sans-serif" font-weight="bold" font-size="8.5" text-anchor="middle" stroke="#000" stroke-width="0.3">P</text>
<text x="264.01" y="390.9" font-family="Liberation Sans, sans-serif" font-weight="bold" font-size="8.5" text-anchor="middle" stroke="#000" stroke-width="0.3">I</text>
<text x="272.12" y="390.9" font-family="Liberation Sans, sans-serif" font-weight="bold" font-size="8.5" text-anchor="middle" stroke="#000" stroke-width="0.3">L</text>
<text x="284.74" y="390.9" font-family="Liberation Sans, sans-serif" font-weight="bold" font-size="8.5" text-anchor="middle" stroke="#000" stroke-width="0.3">C</text>
<text x="292.74" y="390.9" font-family="Liberation Sans, sans-serif" font-weight="bold" font-size="8.5" text-anchor="middle" stroke="#000" stroke-width="0.3">P</text>
<text x="300.94" y="390.9" font-family="Liberation Sans, sans-serif" font-weight="bold" font-size="8.5" text-anchor="middle" stroke="#000" stroke-width="0.3">I</text>
<text x="309.04" y="390.9" font-family="Liberation Sans, sans-serif" font-weight="bold" font-size="8.5" text-anchor="middle" stroke="#000" stroke-width="0.3">L</text>
<text x="321.68" y="390.9" font-family="Liberation Sans, sans-serif" font-weight="bold" font-size="8.5" text-anchor="middle" stroke="#000" stroke-width="0.3">C</text>
<text x="329.68" y="390.9" font-family="Liberation Sans, sans-serif" font-weight="bold" font-size="8.5" text-anchor="middle" stroke="#000" stroke-width="0.3">P</text>
<text x="337.88" y="390.9" font-family="Liberation Sans, sans-serif" font-weight="bold" font-size="8.5" text-anchor="middle" stroke="#000" stroke-width="0.3">I</text>
<text x="345.98" y="390.9" font-family="Liberation Sans, sans-serif" font-weight="bold" font-size="8.5" text-anchor="middle" stroke="#000" stroke-width="0.3">L</text>
<text x="358.60" y="390.9" font-family="Liberation Sans, sans-serif" font-weight="bold" font-size="8.5" text-anchor="middle" stroke="#000" stroke-width="0.3">C</text>
<text x="366.60" y="390.9" font-family="Liberation Sans, sans-serif" font-weight="bold" font-size="8.5" text-anchor="middle" stroke="#000" stroke-width="0.3">P</text>
<text x="374.80" y="390.9" font-family="Liberation Sans, sans-serif" font-weight="bold" font-size="8.5" text-anchor="middle" stroke="#000" stroke-width="0.3">I</text>
<text x="382.90" y="390.9" font-family="Liberation Sans, sans-serif" font-weight="bold" font-size="8.5" text-anchor="middle" stroke="#000" stroke-width="0.3">L</text>
<text x="395.53" y="390.9" font-family="Liberation Sans, sans-serif" font-weight="bold" font-size="8.5" text-anchor="middle" stroke="#000" stroke-width="0.3">C</text>
<text x="403.53" y="390.9" font-family="Liberation Sans, sans-serif" font-weight="bold" font-size="8.5" text-anchor="middle" stroke="#000" stroke-width="0.3">P</text>
<text x="411.73" y="390.9" font-family="Liberation Sans, sans-serif" font-weight="bold" font-size="8.5" text-anchor="middle" stroke="#000" stroke-width="0.3">I</text>
<text x="419.83" y="390.9" font-family="Liberation Sans, sans-serif" font-weight="bold" font-size="8.5" text-anchor="middle" stroke="#000" stroke-width="0.3">L</text>
<text x="432.46" y="390.9" font-family="Liberation Sans, sans-serif" font-weight="bold" font-size="8.5" text-anchor="middle" stroke="#000" stroke-width="0.3">C</text>
<text x="440.46" y="390.9" font-family="Liberation Sans, sans-serif" font-weight="bold" font-size="8.5" text-anchor="middle" stroke="#000" stroke-width="0.3">P</text>
<text x="448.66" y="390.9" font-family="Liberation Sans, sans-serif" font-weight="bold" font-size="8.5" text-anchor="middle" stroke="#000" stroke-width="0.3">I</text>
<text x="456.76" y="390.9" font-family="Liberation Sans, sans-serif" font-weight="bold" font-size="8.5" text-anchor="middle" stroke="#000" stroke-width="0.3">L</text>
<text x="469.39" y="390.9" font-family="Liberation Sans, sans-serif" font-weight="bold" font-size="8.5" text-anchor="middle" stroke="#000" stroke-width="0.3">C</text>
<text x="477.39" y="390.9" font-family="Liberation Sans, sans-serif" font-weight="bold" font-size="8.5" text-anchor="middle" stroke="#000" stroke-width="0.3">P</text>
<text x="485.59" y="390.9" font-family="Liberation Sans, sans-serif" font-weight="bold" font-size="8.5" text-anchor="middle" stroke="#000" stroke-width="0.3">I</text>
<text x="493.69" y="390.9" font-family="Liberation Sans, sans-serif" font-weight="bold" font-size="8.5" text-anchor="middle" stroke="#000" stroke-width="0.3">L</text>
<text transform="translate(23.60,333.70) rotate(-90)" font-family="Liberation Sans, sans-serif" font-weight="bold" font-size="11.45" text-anchor="middle" stroke="#000" stroke-width="0.35">Expression</text>
<rect x="50.6" y="403.3" width="453.0" height="105.19999999999999" fill="none" stroke="#000" stroke-width="1.4"/>
<line x1="93.43" y1="404.3" x2="93.43" y2="507.5" stroke="#000" stroke-width="1.5" stroke-dasharray="2.3,2.3"/>
<line x1="130.36" y1="404.3" x2="130.36" y2="507.5" stroke="#000" stroke-width="1.5" stroke-dasharray="2.3,2.3"/>
<line x1="167.29" y1="404.3" x2="167.29" y2="507.5" stroke="#000" stroke-width="1.5" stroke-dasharray="2.3,2.3"/>
<line x1="204.22" y1="404.3" x2="204.22" y2="507.5" stroke="#000" stroke-width="1.5" stroke-dasharray="2.3,2.3"/>
<line x1="241.15" y1="404.3" x2="241.15" y2="507.5" stroke="#000" stroke-width="1.5" stroke-dasharray="2.3,2.3"/>
<line x1="278.08" y1="404.3" x2="278.08" y2="507.5" stroke="#000" stroke-width="1.5" stroke-dasharray="2.3,2.3"/>
<line x1="315.01" y1="404.3" x2="315.01" y2="507.5" stroke="#000" stroke-width="1.5" stroke-dasharray="2.3,2.3"/>
<line x1="351.94" y1="404.3" x2="351.94" y2="507.5" stroke="#000" stroke-width="1.5" stroke-dasharray="2.3,2.3"/>
<line x1="388.87" y1="404.3" x2="388.87" y2="507.5" stroke="#000" stroke-width="1.5" stroke-dasharray="2.3,2.3"/>
<line x1="425.80" y1="404.3" x2="425.80" y2="507.5" stroke="#000" stroke-width="1.5" stroke-dasharray="2.3,2.3"/>
<line x1="462.73" y1="404.3" x2="462.73" y2="507.5" stroke="#000" stroke-width="1.5" stroke-dasharray="2.3,2.3"/>
<line x1="50.6" y1="508.50" x2="53.9" y2="508.50" stroke="#000" stroke-width="1.2"/>
<line x1="503.6" y1="508.50" x2="499.40000000000003" y2="508.50" stroke="#000" stroke-width="1.2"/>
<line x1="50.6" y1="499.73" x2="53.9" y2="499.73" stroke="#000" stroke-width="1.2"/>
<line x1="503.6" y1="499.73" x2="499.40000000000003" y2="499.73" stroke="#000" stroke-width="1.2"/>
<line x1="50.6" y1="490.97" x2="53.9" y2="490.97" stroke="#000" stroke-width="1.2"/>
<line x1="503.6" y1="490.97" x2="499.40000000000003" y2="490.97" stroke="#000" stroke-width="1.2"/>
<line x1="50.6" y1="482.20" x2="53.9" y2="482.20" stroke="#000" stroke-width="1.2"/>
<line x1="503.6" y1="482.20" x2="499.40000000000003" y2="482.20" stroke="#000" stroke-width="1.2"/>
<line x1="50.6" y1="473.43" x2="53.9" y2="473.43" stroke="#000" stroke-width="1.2"/>
<line x1="503.6" y1="473.43" x2="499.40000000000003" y2="473.43" stroke="#000" stroke-width="1.2"/>
<line x1="50.6" y1="464.67" x2="53.9" y2="464.67" stroke="#000" stroke-width="1.2"/>
<line x1="503.6" y1="464.67" x2="499.40000000000003" y2="464.67" stroke="#000" stroke-width="1.2"/>
<line x1="50.6" y1="455.90" x2="53.9" y2="455.90" stroke="#000" stroke-width="1.2"/>
<line x1="503.6" y1="455.90" x2="499.40000000000003" y2="455.90" stroke="#000" stroke-width="1.2"/>
<line x1="50.6" y1="447.13" x2="53.9" y2="447.13" stroke="#000" stroke-width="1.2"/>
<line x1="503.6" y1="447.13" x2="499.40000000000003" y2="447.13" stroke="#000" stroke-width="1.2"/>
<line x1="50.6" y1="438.36" x2="53.9" y2="438.36" stroke="#000" stroke-width="1.2"/>
<line x1="503.6" y1="438.36" x2="499.40000000000003" y2="438.36" stroke="#000" stroke-width="1.2"/>
<line x1="50.6" y1="429.60" x2="53.9" y2="429.60" stroke="#000" stroke-width="1.2"/>
<line x1="503.6" y1="429.60" x2="499.40000000000003" y2="429.60" stroke="#000" stroke-width="1.2"/>
<line x1="50.6" y1="420.83" x2="53.9" y2="420.83" stroke="#000" stroke-width="1.2"/>
<line x1="503.6" y1="420.83" x2="499.40000000000003" y2="420.83" stroke="#000" stroke-width="1.2"/>
<line x1="50.6" y1="412.06" x2="53.9" y2="412.06" stroke="#000" stroke-width="1.2"/>
<line x1="503.6" y1="412.06" x2="499.40000000000003" y2="412.06" stroke="#000" stroke-width="1.2"/>
<line x1="50.6" y1="403.30" x2="53.9" y2="403.30" stroke="#000" stroke-width="1.2"/>
<line x1="503.6" y1="403.30" x2="499.40000000000003" y2="403.30" stroke="#000" stroke-width="1.2"/>
<text x="47.6" y="405.94" font-family="Liberation Sans, sans-serif" font-weight="bold" font-size="9" text-anchor="end" stroke="#000" stroke-width="0.25">3</text>
<text x="47.6" y="441.04" font-family="Liberation Sans, sans-serif" font-weight="bold" font-size="9" text-anchor="end" stroke="#000" stroke-width="0.25">2</text>
<text x="47.6" y="476.14" font-family="Liberation Sans, sans-serif" font-weight="bold" font-size="9" text-anchor="end" stroke="#000" stroke-width="0.25">1</text>
<text x="47.6" y="511.24" font-family="Liberation Sans, sans-serif" font-weight="bold" font-size="9" text-anchor="end" stroke="#000" stroke-width="0.25">0</text>
<text x="73.37" y="412.4" font-family="Liberation Sans, sans-serif" font-weight="bold" font-style="italic" font-size="7.0" text-anchor="middle" stroke="#000" stroke-width="0.2">Exosc1</text>
<text x="110.30" y="412.4" font-family="Liberation Sans, sans-serif" font-weight="bold" font-style="italic" font-size="7.0" text-anchor="middle" stroke="#000" stroke-width="0.2">Exosc2</text>
<text x="147.22" y="412.4" font-family="Liberation Sans, sans-serif" font-weight="bold" font-style="italic" font-size="7.0" text-anchor="middle" stroke="#000" stroke-width="0.2">Exosc3</text>
<text x="184.16" y="412.4" font-family="Liberation Sans, sans-serif" font-weight="bold" font-style="italic" font-size="7.0" text-anchor="middle" stroke="#000" stroke-width="0.2">Exosc4</text>
<text x="221.09" y="412.4" font-family="Liberation Sans, sans-serif" font-weight="bold" font-style="italic" font-size="7.0" text-anchor="middle" stroke="#000" stroke-width="0.2">Exosc5</text>
<text x="258.01" y="412.4" font-family="Liberation Sans, sans-serif" font-weight="bold" font-style="italic" font-size="7.0" text-anchor="middle" stroke="#000" stroke-width="0.2">Exosc6</text>
<text x="294.94" y="412.4" font-family="Liberation Sans, sans-serif" font-weight="bold" font-style="italic" font-size="7.0" text-anchor="middle" stroke="#000" stroke-width="0.2">Exosc7</text>
<text x="331.88" y="412.4" font-family="Liberation Sans, sans-serif" font-weight="bold" font-style="italic" font-size="7.0" text-anchor="middle" stroke="#000" stroke-width="0.2">Exosc8</text>
<text x="368.80" y="412.4" font-family="Liberation Sans, sans-serif" font-weight="bold" font-style="italic" font-size="7.0" text-anchor="middle" stroke="#000" stroke-width="0.2">Exosc9</text>
<text x="405.73" y="412.4" font-family="Liberation Sans, sans-serif" font-weight="bold" font-style="italic" font-size="7.0" text-anchor="middle" stroke="#000" stroke-width="0.2">Exosc10</text>
<text x="442.66" y="412.4" font-family="Liberation Sans, sans-serif" font-weight="bold" font-style="italic" font-size="7.0" text-anchor="middle" stroke="#000" stroke-width="0.2">Dis3</text>
<text x="479.59" y="412.4" font-family="Liberation Sans, sans-serif" font-weight="bold" font-style="italic" font-size="7.0" text-anchor="middle" stroke="#000" stroke-width="0.2">Dis3l</text>
<line x1="61.97" y1="473.50" x2="61.97" y2="471.50" stroke="#000" stroke-width="1.1"/>
<line x1="60.07" y1="471.50" x2="63.87" y2="471.50" stroke="#000" stroke-width="1.1"/>
<rect x="59.82" y="474.10" width="4.30" height="34.40" fill="#94c7d6" stroke="#000" stroke-width="1.2"/>
<rect x="68.47" y="473.70" width="4.30" height="34.80" fill="#94c7d6" stroke="#000" stroke-width="1.2"/>
<rect x="77.17" y="502.40" width="4.30" height="6.10" fill="#94c7d6" stroke="#000" stroke-width="1.2"/>
<rect x="85.82" y="508.60" width="4.30" height="0.30" fill="#94c7d6" stroke="#000" stroke-width="1.2"/>
<line x1="98.90" y1="473.50" x2="98.90" y2="470.50" stroke="#000" stroke-width="1.1"/>
<line x1="97.00" y1="470.50" x2="100.80" y2="470.50" stroke="#000" stroke-width="1.1"/>
<rect x="96.75" y="474.10" width="4.30" height="34.40" fill="#e3b9cf" stroke="#000" stroke-width="1.2"/>
<line x1="107.55" y1="468.00" x2="107.55" y2="464.90" stroke="#000" stroke-width="1.1"/>
<line x1="105.65" y1="464.90" x2="109.45" y2="464.90" stroke="#000" stroke-width="1.1"/>
<rect x="105.40" y="468.60" width="4.30" height="39.90" fill="#e3b9cf" stroke="#000" stroke-width="1.2"/>
<rect x="114.10" y="498.00" width="4.30" height="10.50" fill="#e3b9cf" stroke="#000" stroke-width="1.2"/>
<rect x="122.75" y="508.00" width="4.30" height="0.50" fill="#e3b9cf" stroke="#000" stroke-width="1.2"/>
<line x1="135.83" y1="473.50" x2="135.83" y2="471.00" stroke="#000" stroke-width="1.1"/>
<line x1="133.93" y1="471.00" x2="137.73" y2="471.00" stroke="#000" stroke-width="1.1"/>
<rect x="133.68" y="474.10" width="4.30" height="34.40" fill="#f5dbb3" stroke="#000" stroke-width="1.2"/>
<line x1="144.48" y1="472.00" x2="144.48" y2="470.50" stroke="#000" stroke-width="1.1"/>
<line x1="142.58" y1="470.50" x2="146.38" y2="470.50" stroke="#000" stroke-width="1.1"/>
<rect x="142.33" y="472.60" width="4.30" height="35.90" fill="#f5dbb3" stroke="#000" stroke-width="1.2"/>
<rect x="151.03" y="498.80" width="4.30" height="9.70" fill="#f5dbb3" stroke="#000" stroke-width="1.2"/>
<rect x="159.68" y="508.00" width="4.30" height="0.50" fill="#f5dbb3" stroke="#000" stroke-width="1.2"/>
<line x1="172.76" y1="473.50" x2="172.76" y2="470.50" stroke="#000" stroke-width="1.1"/>
<line x1="170.86" y1="470.50" x2="174.66" y2="470.50" stroke="#000" stroke-width="1.1"/>
<rect x="170.61" y="474.10" width="4.30" height="34.40" fill="#5a1f6c" stroke="#000" stroke-width="1.2"/>
<rect x="179.26" y="469.10" width="4.30" height="39.40" fill="#5a1f6c" stroke="#000" stroke-width="1.2"/>
<rect x="187.96" y="494.80" width="4.30" height="13.70" fill="#5a1f6c" stroke="#000" stroke-width="1.2"/>
<rect x="196.61" y="506.40" width="4.30" height="2.10" fill="#5a1f6c" stroke="#000" stroke-width="1.2"/>
<line x1="209.69" y1="473.10" x2="209.69" y2="470.80" stroke="#000" stroke-width="1.1"/>
<line x1="207.79" y1="470.80" x2="211.59" y2="470.80" stroke="#000" stroke-width="1.1"/>
<rect x="207.54" y="473.70" width="4.30" height="34.80" fill="#5f9b50" stroke="#000" stroke-width="1.2"/>
<rect x="216.19" y="484.40" width="4.30" height="24.10" fill="#5f9b50" stroke="#000" stroke-width="1.2"/>
<rect x="224.89" y="501.80" width="4.30" height="6.70" fill="#5f9b50" stroke="#000" stroke-width="1.2"/>
<rect x="233.54" y="508.30" width="4.30" height="0.30" fill="#5f9b50" stroke="#000" stroke-width="1.2"/>
<line x1="246.62" y1="473.10" x2="246.62" y2="471.00" stroke="#000" stroke-width="1.1"/>
<line x1="244.72" y1="471.00" x2="248.52" y2="471.00" stroke="#000" stroke-width="1.1"/>
<rect x="244.47" y="473.70" width="4.30" height="34.80" fill="#e8925f" stroke="#000" stroke-width="1.2"/>
<line x1="255.27" y1="474.90" x2="255.27" y2="472.30" stroke="#000" stroke-width="1.1"/>
<line x1="253.37" y1="472.30" x2="257.17" y2="472.30" stroke="#000" stroke-width="1.1"/>
<rect x="253.12" y="475.50" width="4.30" height="33.00" fill="#e8925f" stroke="#000" stroke-width="1.2"/>
<rect x="261.82" y="501.80" width="4.30" height="6.70" fill="#e8925f" stroke="#000" stroke-width="1.2"/>
<rect x="270.47" y="508.00" width="4.30" height="0.50" fill="#e8925f" stroke="#000" stroke-width="1.2"/>
<line x1="283.55" y1="473.40" x2="283.55" y2="471.00" stroke="#000" stroke-width="1.1"/>
<line x1="281.65" y1="471.00" x2="285.45" y2="471.00" stroke="#000" stroke-width="1.1"/>
<rect x="281.40" y="474.00" width="4.30" height="34.50" fill="#b0101e" stroke="#000" stroke-width="1.2"/>
<line x1="292.20" y1="468.10" x2="292.20" y2="463.00" stroke="#000" stroke-width="1.1"/>
<line x1="290.30" y1="463.00" x2="294.10" y2="463.00" stroke="#000" stroke-width="1.1"/>
<rect x="290.05" y="468.70" width="4.30" height="39.80" fill="#b0101e" stroke="#000" stroke-width="1.2"/>
<rect x="298.75" y="501.00" width="4.30" height="7.50" fill="#b0101e" stroke="#000" stroke-width="1.2"/>
<rect x="307.40" y="507.90" width="4.30" height="0.60" fill="#b0101e" stroke="#000" stroke-width="1.2"/>
<line x1="320.48" y1="472.90" x2="320.48" y2="471.70" stroke="#000" stroke-width="1.1"/>
<line x1="318.58" y1="471.70" x2="322.38" y2="471.70" stroke="#000" stroke-width="1.1"/>
<rect x="318.33" y="473.50" width="4.30" height="35.00" fill="#f2df3e" stroke="#000" stroke-width="1.2"/>
<rect x="326.98" y="475.10" width="4.30" height="33.40" fill="#f2df3e" stroke="#000" stroke-width="1.2"/>
<rect x="335.68" y="498.00" width="4.30" height="10.50" fill="#f2df3e" stroke="#000" stroke-width="1.2"/>
<rect x="344.33" y="507.40" width="4.30" height="1.10" fill="#f2df3e" stroke="#000" stroke-width="1.2"/>
<line x1="357.41" y1="473.40" x2="357.41" y2="470.40" stroke="#000" stroke-width="1.1"/>
<line x1="355.51" y1="470.40" x2="359.31" y2="470.40" stroke="#000" stroke-width="1.1"/>
<rect x="355.26" y="474.00" width="4.30" height="34.50" fill="#4a58a0" stroke="#000" stroke-width="1.2"/>
<line x1="366.06" y1="477.20" x2="366.06" y2="475.20" stroke="#000" stroke-width="1.1"/>
<line x1="364.16" y1="475.20" x2="367.96" y2="475.20" stroke="#000" stroke-width="1.1"/>
<rect x="363.91" y="477.80" width="4.30" height="30.70" fill="#4a58a0" stroke="#000" stroke-width="1.2"/>
<rect x="372.61" y="492.30" width="4.30" height="16.20" fill="#4a58a0" stroke="#000" stroke-width="1.2"/>
<rect x="381.26" y="504.40" width="4.30" height="4.10" fill="#4a58a0" stroke="#000" stroke-width="1.2"/>
<line x1="394.34" y1="473.40" x2="394.34" y2="468.30" stroke="#000" stroke-width="1.1"/>
<line x1="392.44" y1="468.30" x2="396.24" y2="468.30" stroke="#000" stroke-width="1.1"/>
<rect x="392.19" y="474.00" width="4.30" height="34.50" fill="#111" stroke="#000" stroke-width="1.2"/>
<line x1="402.99" y1="463.70" x2="402.99" y2="455.70" stroke="#000" stroke-width="1.1"/>
<line x1="401.09" y1="455.70" x2="404.89" y2="455.70" stroke="#000" stroke-width="1.1"/>
<rect x="400.84" y="464.30" width="4.30" height="44.20" fill="#111" stroke="#000" stroke-width="1.2"/>
<rect x="409.54" y="493.40" width="4.30" height="15.10" fill="#111" stroke="#000" stroke-width="1.2"/>
<rect x="418.19" y="506.00" width="4.30" height="2.50" fill="#111" stroke="#000" stroke-width="1.2"/>
<line x1="431.27" y1="491.10" x2="431.27" y2="485.90" stroke="#000" stroke-width="1.1"/>
<line x1="429.37" y1="485.90" x2="433.17" y2="485.90" stroke="#000" stroke-width="1.1"/>
<rect x="429.12" y="491.70" width="4.30" height="16.80" fill="#111" stroke="#000" stroke-width="1.2"/>
<rect x="437.77" y="421.20" width="4.30" height="87.30" fill="#111" stroke="#000" stroke-width="1.2"/>
<rect x="446.47" y="492.90" width="4.30" height="15.60" fill="#111" stroke="#000" stroke-width="1.2"/>
<rect x="455.12" y="507.50" width="4.30" height="1.00" fill="#111" stroke="#000" stroke-width="1.2"/>
<rect x="466.05" y="473.20" width="4.30" height="35.30" fill="#111" stroke="#000" stroke-width="1.2"/>
<rect x="474.70" y="473.20" width="4.30" height="35.30" fill="#111" stroke="#000" stroke-width="1.2"/>
<rect x="483.40" y="490.60" width="4.30" height="17.90" fill="#111" stroke="#000" stroke-width="1.2"/>
<rect x="492.05" y="506.60" width="4.30" height="1.90" fill="#111" stroke="#000" stroke-width="1.2"/>
<text x="61.27" y="518.4" font-family="Liberation Sans, sans-serif" font-weight="bold" font-size="8.5" text-anchor="middle" stroke="#000" stroke-width="0.3">1</text>
<text x="70.17" y="518.4" font-family="Liberation Sans, sans-serif" font-weight="bold" font-size="8.5" text-anchor="middle" stroke="#000" stroke-width="0.3">2</text>
<text x="78.37" y="518.4" font-family="Liberation Sans, sans-serif" font-weight="bold" font-size="8.5" text-anchor="middle" stroke="#000" stroke-width="0.3">3</text>
<text x="86.27" y="518.4" font-family="Liberation Sans, sans-serif" font-weight="bold" font-size="8.5" text-anchor="middle" stroke="#000" stroke-width="0.3">4</text>
<text x="98.19" y="518.4" font-family="Liberation Sans, sans-serif" font-weight="bold" font-size="8.5" text-anchor="middle" stroke="#000" stroke-width="0.3">1</text>
<text x="107.09" y="518.4" font-family="Liberation Sans, sans-serif" font-weight="bold" font-size="8.5" text-anchor="middle" stroke="#000" stroke-width="0.3">2</text>
<text x="115.30" y="518.4" font-family="Liberation Sans, sans-serif" font-weight="bold" font-size="8.5" text-anchor="middle" stroke="#000" stroke-width="0.3">3</text>
<text x="123.19" y="518.4" font-family="Liberation Sans, sans-serif" font-weight="bold" font-size="8.5" text-anchor="middle" stroke="#000" stroke-width="0.3">4</text>
<text x="135.12" y="518.4" font-family="Liberation Sans, sans-serif" font-weight="bold" font-size="8.5" text-anchor="middle" stroke="#000" stroke-width="0.3">1</text>
<text x="144.02" y="518.4" font-family="Liberation Sans, sans-serif" font-weight="bold" font-size="8.5" text-anchor="middle" stroke="#000" stroke-width="0.3">2</text>
<text x="152.22" y="518.4" font-family="Liberation Sans, sans-serif" font-weight="bold" font-size="8.5" text-anchor="middle" stroke="#000" stroke-width="0.3">3</text>
<text x="160.12" y="518.4" font-family="Liberation Sans, sans-serif" font-weight="bold" font-size="8.5" text-anchor="middle" stroke="#000" stroke-width="0.3">4</text>
<text x="172.06" y="518.4" font-family="Liberation Sans, sans-serif" font-weight="bold" font-size="8.5" text-anchor="middle" stroke="#000" stroke-width="0.3">1</text>
<text x="180.95" y="518.4" font-family="Liberation Sans, sans-serif" font-weight="bold" font-size="8.5" text-anchor="middle" stroke="#000" stroke-width="0.3">2</text>
<text x="189.16" y="518.4" font-family="Liberation Sans, sans-serif" font-weight="bold" font-size="8.5" text-anchor="middle" stroke="#000" stroke-width="0.3">3</text>
<text x="197.06" y="518.4" font-family="Liberation Sans, sans-serif" font-weight="bold" font-size="8.5" text-anchor="middle" stroke="#000" stroke-width="0.3">4</text>
<text x="208.99" y="518.4" font-family="Liberation Sans, sans-serif" font-weight="bold" font-size="8.5" text-anchor="middle" stroke="#000" stroke-width="0.3">1</text>
<text x="217.88" y="518.4" font-family="Liberation Sans, sans-serif" font-weight="bold" font-size="8.5" text-anchor="middle" stroke="#000" stroke-width="0.3">2</text>
<text x="226.09" y="518.4" font-family="Liberation Sans, sans-serif" font-weight="bold" font-size="8.5" text-anchor="middle" stroke="#000" stroke-width="0.3">3</text>
<text x="233.99" y="518.4" font-family="Liberation Sans, sans-serif" font-weight="bold" font-size="8.5" text-anchor="middle" stroke="#000" stroke-width="0.3">4</text>
<text x="245.92" y="518.4" font-family="Liberation Sans, sans-serif" font-weight="bold" font-size="8.5" text-anchor="middle" stroke="#000" stroke-width="0.3">1</text>
<text x="254.81" y="518.4" font-family="Liberation Sans, sans-serif" font-weight="bold" font-size="8.5" text-anchor="middle" stroke="#000" stroke-width="0.3">2</text>
<text x="263.01" y="518.4" font-family="Liberation Sans, sans-serif" font-weight="bold" font-size="8.5" text-anchor="middle" stroke="#000" stroke-width="0.3">3</text>
<text x="270.92" y="518.4" font-family="Liberation Sans, sans-serif" font-weight="bold" font-size="8.5" text-anchor="middle" stroke="#000" stroke-width="0.3">4</text>
<text x="282.84" y="518.4" font-family="Liberation Sans, sans-serif" font-weight="bold" font-size="8.5" text-anchor="middle" stroke="#000" stroke-width="0.3">1</text>
<text x="291.74" y="518.4" font-family="Liberation Sans, sans-serif" font-weight="bold" font-size="8.5" text-anchor="middle" stroke="#000" stroke-width="0.3">2</text>
<text x="299.94" y="518.4" font-family="Liberation Sans, sans-serif" font-weight="bold" font-size="8.5" text-anchor="middle" stroke="#000" stroke-width="0.3">3</text>
<text x="307.84" y="518.4" font-family="Liberation Sans, sans-serif" font-weight="bold" font-size="8.5" text-anchor="middle" stroke="#000" stroke-width="0.3">4</text>
<text x="319.78" y="518.4" font-family="Liberation Sans, sans-serif" font-weight="bold" font-size="8.5" text-anchor="middle" stroke="#000" stroke-width="0.3">1</text>
<text x="328.68" y="518.4" font-family="Liberation Sans, sans-serif" font-weight="bold" font-size="8.5" text-anchor="middle" stroke="#000" stroke-width="0.3">2</text>
<text x="336.88" y="518.4" font-family="Liberation Sans, sans-serif" font-weight="bold" font-size="8.5" text-anchor="middle" stroke="#000" stroke-width="0.3">3</text>
<text x="344.78" y="518.4" font-family="Liberation Sans, sans-serif" font-weight="bold" font-size="8.5" text-anchor="middle" stroke="#000" stroke-width="0.3">4</text>
<text x="356.70" y="518.4" font-family="Liberation Sans, sans-serif" font-weight="bold" font-size="8.5" text-anchor="middle" stroke="#000" stroke-width="0.3">1</text>
<text x="365.60" y="518.4" font-family="Liberation Sans, sans-serif" font-weight="bold" font-size="8.5" text-anchor="middle" stroke="#000" stroke-width="0.3">2</text>
<text x="373.80" y="518.4" font-family="Liberation Sans, sans-serif" font-weight="bold" font-size="8.5" text-anchor="middle" stroke="#000" stroke-width="0.3">3</text>
<text x="381.70" y="518.4" font-family="Liberation Sans, sans-serif" font-weight="bold" font-size="8.5" text-anchor="middle" stroke="#000" stroke-width="0.3">4</text>
<text x="393.63" y="518.4" font-family="Liberation Sans, sans-serif" font-weight="bold" font-size="8.5" text-anchor="middle" stroke="#000" stroke-width="0.3">1</text>
<text x="402.53" y="518.4" font-family="Liberation Sans, sans-serif" font-weight="bold" font-size="8.5" text-anchor="middle" stroke="#000" stroke-width="0.3">2</text>
<text x="410.73" y="518.4" font-family="Liberation Sans, sans-serif" font-weight="bold" font-size="8.5" text-anchor="middle" stroke="#000" stroke-width="0.3">3</text>
<text x="418.63" y="518.4" font-family="Liberation Sans, sans-serif" font-weight="bold" font-size="8.5" text-anchor="middle" stroke="#000" stroke-width="0.3">4</text>
<text x="430.56" y="518.4" font-family="Liberation Sans, sans-serif" font-weight="bold" font-size="8.5" text-anchor="middle" stroke="#000" stroke-width="0.3">1</text>
<text x="439.46" y="518.4" font-family="Liberation Sans, sans-serif" font-weight="bold" font-size="8.5" text-anchor="middle" stroke="#000" stroke-width="0.3">2</text>
<text x="447.66" y="518.4" font-family="Liberation Sans, sans-serif" font-weight="bold" font-size="8.5" text-anchor="middle" stroke="#000" stroke-width="0.3">3</text>
<text x="455.56" y="518.4" font-family="Liberation Sans, sans-serif" font-weight="bold" font-size="8.5" text-anchor="middle" stroke="#000" stroke-width="0.3">4</text>
<text x="467.50" y="518.4" font-family="Liberation Sans, sans-serif" font-weight="bold" font-size="8.5" text-anchor="middle" stroke="#000" stroke-width="0.3">1</text>
<text x="476.39" y="518.4" font-family="Liberation Sans, sans-serif" font-weight="bold" font-size="8.5" text-anchor="middle" stroke="#000" stroke-width="0.3">2</text>
<text x="484.59" y="518.4" font-family="Liberation Sans, sans-serif" font-weight="bold" font-size="8.5" text-anchor="middle" stroke="#000" stroke-width="0.3">3</text>
<text x="492.50" y="518.4" font-family="Liberation Sans, sans-serif" font-weight="bold" font-size="8.5" text-anchor="middle" stroke="#000" stroke-width="0.3">4</text>
<text transform="translate(10.00,460.00) rotate(-90)" font-family="Liberation Sans, sans-serif" font-weight="bold" font-size="11.6" text-anchor="middle" stroke="#000" stroke-width="0.35">mRNA Levels</text>
<text transform="translate(23.80,460.00) rotate(-90)" font-family="Liberation Sans, sans-serif" font-weight="bold" font-size="11.6" text-anchor="middle" stroke="#000" stroke-width="0.35">(Relative Units)</text>

<g stroke="#000" stroke-width="2.2" fill="none" stroke-linecap="butt">
  <!-- outer curves -->
  <path d="M58,21 C48,16 35,21 30,36 C26,50 26,68 35,77.5"/>
  <path d="M35,77.5 C28,82 27,96 35,106 C42,114 54,118 64,113"/>
  <!-- solid links -->
  <line x1="74" y1="21.6" x2="102.5" y2="21.6"/>
  <line x1="77.8" y1="30.8" x2="127" y2="55"/>
  <line x1="121.2" y1="35" x2="131.6" y2="51.2"/>
  <line x1="104.4" y1="37.5" x2="100.9" y2="48.5"/>
  <line x1="48.6" y1="46.5" x2="75.5" y2="58.5"/>
  <line x1="56.5" y1="66.6" x2="74.3" y2="64.0"/>
  <line x1="106.7" y1="58.5" x2="125.5" y2="57.5"/>
  <line x1="53.5" y1="80.5" x2="66.2" y2="96.7"/>
  <line x1="85" y1="81.3" x2="78.9" y2="95"/>
  <line x1="98.6" y1="80.5" x2="109" y2="93.5"/>
  <line x1="82.4" y1="111.7" x2="87.5" y2="116.5"/>
  <line x1="131.6" y1="73" x2="123.5" y2="93.3"/>
  <line x1="103.8" y1="109.5" x2="101.5" y2="114.5"/>
  <!-- dashed links -->
  <g stroke-dasharray="3.2,2" stroke-width="2.4">
    <line x1="75.5" y1="26.2" x2="101.5" y2="26.2"/>
    <line x1="117.8" y1="37.8" x2="128.2" y2="52.8"/>
    <line x1="59.3" y1="35.7" x2="51.5" y2="37.8"/>
    <line x1="61.4" y1="38.5" x2="54" y2="59.3"/>
    <line x1="46.5" y1="51.9" x2="51.3" y2="59.3"/>
    <line x1="83.6" y1="104.6" x2="105.5" y2="102.4"/>
  </g>
</g>
<!-- red ellipses -->
<g stroke="#000" stroke-width="1.3" fill="#c8102e">
  <ellipse cx="43.2" cy="44" rx="16.6" ry="4.6" transform="rotate(-67.6 43.2 44)"/>
  <ellipse cx="92" cy="119.7" rx="16.8" ry="4.1" transform="rotate(-13 92 119.7)"/>
</g>
<g font-family="Liberation Sans, sans-serif" font-weight="bold" font-size="5" fill="#4a0008" text-anchor="middle">
  <text x="43" y="46" transform="rotate(-67.6 43 44)" fill="#5a0010">10</text>
  <text x="92" y="121.5" transform="rotate(-13 92 119.7)" fill="#7a0010" opacity="0.8">Dis3</text>
</g>
<!-- light ellipses -->
<g stroke="#000" stroke-width="1.5" fill="#bdbdbd">
  <ellipse cx="80.2" cy="63.2" rx="4.9" ry="10" transform="rotate(20 80.2 63.2)"/>
  <ellipse cx="98.7" cy="58.2" rx="9.6" ry="5.4" transform="rotate(48 98.7 58.2)"/>
  <ellipse cx="92.6" cy="76.6" rx="10.4" ry="4.6" transform="rotate(-10 92.6 76.6)"/>
</g>
<!-- gray circles -->
<g stroke="#000" stroke-width="2.1" fill="#727272">
  <circle cx="66.8" cy="28.5" r="9.1"/>
  <circle cx="111.4" cy="27.0" r="9.1"/>
  <circle cx="47.2" cy="71.4" r="9.1"/>
  <circle cx="72.9" cy="105.0" r="9.1"/>
  <circle cx="115.5" cy="102.3" r="9.1"/>
  <circle cx="135.3" cy="62.3" r="9.4"/>
</g>
<g font-family="Liberation Sans, sans-serif" font-weight="bold" font-size="7.6" fill="#111" stroke="#111" stroke-width="0.3" text-anchor="middle">
  <text x="66.8" y="31.2">8</text>
  <text x="111.4" y="29.7">5</text>
  <text x="47.2" y="74.1">6</text>
  <text x="72.9" y="107.7">7</text>
  <text x="115.5" y="105">4</text>
  <text x="135.3" y="65">9</text>
  <text x="80.2" y="66" transform="rotate(18 80.2 63.2)">1</text>
  <text x="98.9" y="61" transform="rotate(35 98.9 58.2)">3</text>
  <text x="92.6" y="79.4" transform="rotate(-10 92.6 76.6)">2</text>
</g>
<!-- big arrow -->
<polygon points="150.4,62.7 159.2,62.7 159.2,60 169.2,64.4 159.2,68.8 159.2,66.2 150.4,66.2" fill="#000"/>


<defs>
<filter id="tex" x="-8%" y="-8%" width="116%" height="116%" color-interpolation-filters="sRGB">
  <feTurbulence type="fractalNoise" baseFrequency="0.45" numOctaves="2" seed="4" result="n"/>
  <feDisplacementMap in="SourceGraphic" in2="n" scale="3.2" xChannelSelector="R" yChannelSelector="G" result="d"/>
  <feTurbulence type="fractalNoise" baseFrequency="0.42" numOctaves="2" seed="9" result="n2"/>
  <feDiffuseLighting in="n2" surfaceScale="2.2" diffuseConstant="1.08" lighting-color="#ffffff" result="light">
    <feDistantLight azimuth="225" elevation="58"/>
  </feDiffuseLighting>
  <feSpecularLighting in="n2" surfaceScale="2.2" specularConstant="0.6" specularExponent="12" lighting-color="#ffffff" result="spec">
    <feDistantLight azimuth="225" elevation="58"/>
  </feSpecularLighting>
  <feBlend in="d" in2="light" mode="multiply" result="m"/>
  <feComposite in="spec" in2="m" operator="arithmetic" k1="0" k2="0.08" k3="1" k4="0" result="ms"/>
  <feComposite in="ms" in2="d" operator="in"/>
</filter>
</defs>
<g filter="url(#tex)">
<path fill="#e6d2a3" stroke="#e6d2a3" stroke-width="2.2" stroke-linejoin="round" d="M195.1,36.2 C197.6,36.2 201.0,36.2 202.6,38.3 C204.2,40.4 203.6,45.7 204.7,48.9 C205.8,52.1 206.8,55.1 208.9,57.4 C211.0,59.7 214.9,60.9 217.4,62.7 C219.9,64.5 222.3,66.1 223.7,68.0 C225.1,69.9 225.9,72.2 225.9,74.3 C225.9,76.4 225.1,79.1 223.7,80.7 C222.3,82.3 219.9,83.2 217.4,83.9 C214.9,84.6 211.4,83.8 208.9,85.0 C206.4,86.2 204.4,89.5 202.6,91.3 C200.8,93.0 200.4,95.2 198.3,95.5 C196.2,95.8 192.6,94.8 189.8,93.4 C187.0,92.0 183.5,89.9 181.4,87.1 C179.3,84.3 177.5,79.7 177.1,76.5 C176.7,73.3 178.1,70.5 179.2,68.0 C180.3,65.5 182.6,64.1 183.5,61.6 C184.4,59.1 184.5,56.0 184.5,53.2 C184.5,50.4 183.0,47.2 183.5,44.7 C184.0,42.2 185.8,39.7 187.7,38.3 C189.6,36.9 192.6,36.2 195.1,36.2Z"/>
<path fill="#3a3ea8" stroke="#3a3ea8" stroke-width="2.2" stroke-linejoin="round" d="M193.0,34.1 C193.5,32.8 196.0,30.4 198.3,28.8 C200.6,27.2 203.6,25.7 206.8,24.5 C210.0,23.3 214.2,22.2 217.4,21.4 C220.6,20.6 223.1,19.7 225.9,19.9 C228.7,20.1 231.5,21.1 234.3,22.4 C237.1,23.7 241.0,26.3 242.8,27.7 C244.6,29.1 245.0,30.4 245.0,30.9 C245.0,31.4 244.6,31.8 242.8,30.8 C241.0,29.9 237.1,26.6 234.3,25.2 C231.5,23.8 228.7,22.8 225.9,22.6 C223.1,22.4 220.2,23.4 217.4,24.2 C214.6,25.0 211.7,25.9 208.9,27.2 C206.1,28.5 202.7,30.4 200.4,32.0 C198.1,33.6 196.3,36.4 195.1,36.8 C193.9,37.1 192.5,35.4 193.0,34.1Z"/>
<path fill="#eee12c" stroke="#eee12c" stroke-width="2.2" stroke-linejoin="round" d="M207.5,29.5 C208.9,28.1 214.3,25.7 217.4,24.6 C220.5,23.5 223.1,22.7 225.9,22.8 C228.7,22.9 231.5,24.1 234.3,25.4 C237.1,26.7 241.8,29.3 242.8,30.8 C243.9,32.3 242.2,33.3 240.6,34.5 C239.0,35.7 236.0,37.3 233.2,38.2 C230.4,39.1 226.8,39.9 223.7,39.8 C220.5,39.7 216.8,38.6 214.3,37.5 C211.9,36.4 210.1,34.3 209.0,33.0 C207.9,31.7 206.1,30.9 207.5,29.5Z"/>
<path fill="#74c7d6" stroke="#74c7d6" stroke-width="2.2" stroke-linejoin="round" d="M202.6,33.0 C204.0,31.9 207.5,33.6 211.0,34.1 C214.5,34.6 219.1,36.0 223.7,36.2 C228.3,36.4 235.0,35.6 238.6,35.1 C242.2,34.6 242.5,33.7 245.0,33.0 C247.5,32.3 250.9,31.8 253.4,30.9 C255.9,30.0 257.7,27.9 259.8,27.7 C261.9,27.5 264.2,28.6 266.1,29.8 C268.0,31.0 270.0,33.0 271.4,35.1 C272.8,37.2 274.2,40.1 274.6,42.6 C275.0,45.1 274.7,47.7 273.6,50.0 C272.6,52.3 270.6,55.2 268.3,56.3 C266.0,57.3 261.9,57.2 259.8,56.3 C257.7,55.4 257.6,52.2 255.5,51.0 C253.4,49.8 249.2,48.4 247.1,48.9 C245.0,49.4 244.2,52.2 242.8,54.2 C241.4,56.2 240.4,59.2 238.6,60.6 C236.8,62.0 234.7,62.4 232.2,62.7 C229.7,63.1 226.2,62.9 223.7,62.7 C221.2,62.5 219.9,62.5 217.4,61.6 C214.9,60.7 211.0,59.5 208.9,57.4 C206.8,55.3 205.8,51.7 204.7,48.9 C203.6,46.1 202.9,43.0 202.6,40.4 C202.2,37.8 201.2,34.0 202.6,33.0Z"/>
<path fill="#e2801c" stroke="#e2801c" stroke-width="2.2" stroke-linejoin="round" d="M242.8,28.8 C243.0,27.6 246.3,27.5 248.1,27.7 C249.9,27.9 252.7,28.6 253.4,29.8 C254.1,31.0 253.5,34.2 252.4,35.1 C251.3,36.0 248.7,36.1 247.1,35.1 C245.5,34.1 242.6,30.0 242.8,28.8Z"/>
<path fill="#e2801c" stroke="#e2801c" stroke-width="2.2" stroke-linejoin="round" d="M244.9,48.9 C246.5,47.5 251.1,46.3 253.4,46.8 C255.7,47.3 257.8,50.3 258.7,52.1 C259.6,53.9 259.6,56.0 258.7,57.4 C257.8,58.8 255.3,60.2 253.4,60.6 C251.5,61.0 248.7,60.4 247.1,59.5 C245.5,58.6 244.3,57.1 243.9,55.3 C243.5,53.5 243.3,50.3 244.9,48.9Z"/>
<path fill="#d81c1c" stroke="#d81c1c" stroke-width="2.2" stroke-linejoin="round" d="M253.4,59.5 C254.5,58.5 257.3,57.9 259.8,57.4 C262.3,56.9 266.0,56.3 268.3,56.3 C270.6,56.3 272.6,56.0 273.6,57.4 C274.7,58.8 274.8,62.9 274.6,64.8 C274.4,66.7 274.3,68.3 272.5,69.0 C270.7,69.7 266.6,69.3 264.0,69.0 C261.4,68.7 258.4,67.8 256.6,66.9 C254.8,66.0 253.9,64.9 253.4,63.7 C252.9,62.5 252.3,60.5 253.4,59.5Z"/>
<path fill="#ecc6e2" stroke="#ecc6e2" stroke-width="2.2" stroke-linejoin="round" d="M230.1,71.2 C229.9,70.9 232.2,68.2 234.3,66.9 C236.4,65.7 240.0,64.1 242.8,63.7 C245.6,63.4 249.0,64.3 251.3,64.8 C253.6,65.3 254.5,66.2 256.6,66.9 C258.7,67.6 261.4,68.7 264.0,69.0 C266.6,69.3 270.6,68.1 272.5,69.0 C274.4,69.9 274.8,71.6 275.7,74.3 C276.6,77.0 277.6,81.4 277.8,84.9 C278.0,88.4 277.6,92.3 276.7,95.5 C275.8,98.7 274.3,101.7 272.5,104.0 C270.7,106.3 268.6,107.8 266.1,109.3 C263.6,110.8 260.9,112.0 257.7,113.0 C254.5,114.0 250.3,115.1 247.1,115.5 C243.9,115.9 241.8,116.2 238.6,115.5 C235.4,114.8 230.8,113.3 228.0,111.5 C225.2,109.7 221.9,106.8 221.6,104.5 C221.2,102.2 224.1,99.5 225.9,97.7 C227.7,95.9 230.4,94.8 232.2,93.4 C234.0,92.0 235.4,91.3 236.5,89.2 C237.6,87.1 238.2,83.5 238.6,80.7 C238.9,77.9 239.1,74.2 238.6,72.2 C238.1,70.2 236.8,69.2 235.4,69.0 C234.0,68.8 230.3,71.5 230.1,71.2Z"/>
<path fill="#5c2480" stroke="#5c2480" stroke-width="2.2" stroke-linejoin="round" d="M222.7,82.8 C223.0,80.9 225.7,78.4 226.9,76.5 C228.1,74.6 228.7,72.5 230.1,71.2 C231.5,70.0 233.8,68.8 235.4,69.0 C237.0,69.2 238.7,70.2 239.6,72.2 C240.5,74.2 240.6,77.9 240.6,80.7 C240.6,83.5 240.4,86.8 239.5,89.2 C238.6,91.7 237.0,93.5 235.2,95.4 C233.4,97.3 230.8,100.2 228.9,100.7 C227.0,101.2 224.4,100.7 223.7,98.6 C223.0,96.5 225.0,90.7 224.8,88.1 C224.6,85.5 222.3,84.7 222.7,82.8Z"/>
<path fill="#3438a2" stroke="#3438a2" stroke-width="2.2" stroke-linejoin="round" d="M202.6,91.3 C203.8,89.5 206.4,86.2 208.9,85.0 C211.4,83.8 215.1,84.3 217.4,83.9 C219.7,83.5 221.5,82.1 222.7,82.8 C223.9,83.5 224.6,85.8 224.8,88.1 C225.0,90.4 224.4,93.9 223.7,96.6 C223.0,99.2 222.3,102.8 220.6,104.0 C218.8,105.2 215.8,104.7 213.2,104.0 C210.5,103.3 206.6,101.2 204.7,99.8 C202.8,98.4 201.8,96.9 201.5,95.5 C201.2,94.1 201.4,93.0 202.6,91.3Z"/>
<path fill="#6a6a48" stroke="#6a6a48" stroke-width="2.2" stroke-linejoin="round" d="M186.7,56.5 C187.5,55.6 191.4,55.4 192.5,56.3 C193.6,57.1 193.8,60.7 193.0,61.6 C192.2,62.5 188.6,62.5 187.5,61.6 C186.4,60.8 185.9,57.4 186.7,56.5Z"/>
<path fill="#6a3070" stroke="#6a3070" stroke-width="2.2" stroke-linejoin="round" d="M246.5,101.0 C247.1,99.7 250.2,98.9 251.0,100.0 C251.8,101.1 252.1,106.2 251.5,107.5 C250.9,108.8 248.3,109.1 247.5,108.0 C246.7,106.9 245.9,102.3 246.5,101.0Z"/>
</g>
<g filter="url(#tex)">
<path fill="#4649b8" stroke="#4649b8" stroke-width="2.2" stroke-linejoin="round" d="M383.9,37.4 C383.6,34.6 386.2,31.2 388.5,28.1 C390.8,25.0 394.2,21.6 397.7,18.9 C401.2,16.2 405.4,13.6 409.3,11.9 C413.2,10.2 417.3,8.5 420.8,8.5 C424.3,8.5 427.0,10.2 430.1,11.9 C433.2,13.7 436.2,17.0 439.3,19.0 C442.4,21.0 445.5,22.5 448.6,23.8 C451.7,25.1 455.1,25.0 457.8,26.6 C460.5,28.2 462.9,30.3 464.8,33.2 C466.7,36.2 468.2,40.5 469.4,44.3 C470.5,48.1 471.7,52.7 471.7,55.8 C471.7,58.9 470.9,61.2 469.4,62.8 C467.8,64.3 465.1,64.3 462.4,65.1 C459.7,65.9 456.3,66.8 453.2,67.4 C450.1,68.0 447.1,68.8 444.0,68.6 C440.9,68.4 437.0,67.5 434.7,66.2 C432.4,64.9 431.7,63.2 430.1,60.5 C428.5,57.8 428.4,53.4 425.0,50.0 C421.6,46.6 415.8,40.8 410.0,40.0 C404.2,39.2 394.4,45.4 390.0,45.0 C385.6,44.6 384.1,40.2 383.9,37.4Z"/>
<path fill="#efe6cc" stroke="#efe6cc" stroke-width="2.2" stroke-linejoin="round" d="M460.1,24.6 C461.5,24.6 465.6,26.4 467.1,28.1 C468.7,29.8 469.4,33.1 469.4,35.0 C469.4,36.9 468.3,39.7 467.1,39.7 C465.9,39.7 463.8,36.9 462.4,35.0 C461.0,33.1 459.4,29.8 459.0,28.1 C458.6,26.4 458.8,24.6 460.1,24.6Z"/>
<path fill="#52a038" stroke="#52a038" stroke-width="2.2" stroke-linejoin="round" d="M407.0,23.5 C408.1,21.6 413.1,20.0 416.2,18.9 C419.3,17.8 422.4,16.2 425.5,16.6 C428.6,17.0 432.4,19.3 434.7,21.2 C437.0,23.1 438.9,25.8 439.3,28.1 C439.7,30.4 438.5,33.1 437.0,35.0 C435.5,36.9 432.4,38.5 430.1,39.7 C427.8,40.9 425.5,42.4 423.2,42.0 C420.9,41.6 418.5,39.3 416.2,37.4 C413.9,35.5 410.8,32.7 409.3,30.4 C407.8,28.1 405.9,25.4 407.0,23.5Z"/>
<path fill="#eee31f" stroke="#eee31f" stroke-width="2.2" stroke-linejoin="round" d="M379.2,48.9 C379.4,46.8 379.7,44.3 381.6,42.0 C383.5,39.7 387.7,37.3 390.8,35.0 C393.9,32.7 396.9,28.9 400.0,28.1 C403.1,27.3 406.6,28.8 409.3,30.4 C412.0,31.9 413.5,35.3 416.2,37.4 C418.9,39.5 423.2,40.8 425.5,43.1 C427.8,45.4 429.7,48.7 430.1,51.2 C430.5,53.7 429.4,55.9 427.8,58.2 C426.2,60.5 423.5,63.8 420.8,65.1 C418.1,66.4 414.7,66.6 411.6,66.2 C408.5,65.8 405.5,63.8 402.4,62.8 C399.3,61.8 395.8,61.3 393.1,60.5 C390.4,59.7 388.3,59.2 386.2,58.2 C384.1,57.2 381.6,56.2 380.4,54.7 C379.2,53.2 379.0,51.0 379.2,48.9Z"/>
<path fill="#c8741e" stroke="#c8741e" stroke-width="2.2" stroke-linejoin="round" d="M380.4,54.7 C381.8,54.7 384.1,57.2 386.2,58.2 C388.3,59.2 390.4,59.7 393.1,60.5 C395.8,61.3 400.1,61.3 402.4,62.8 C404.7,64.3 406.6,66.6 407.0,69.7 C407.4,72.8 405.5,77.5 404.7,81.3 C403.9,85.1 402.8,89.7 402.4,92.8 C402.0,95.9 403.9,99.4 402.4,99.8 C400.8,100.2 395.8,97.4 393.1,95.1 C390.4,92.8 387.9,89.4 386.2,85.9 C384.5,82.4 383.9,77.4 382.7,74.3 C381.5,71.2 380.0,70.1 379.2,67.4 C378.4,64.7 377.9,60.3 378.1,58.2 C378.3,56.1 379.0,54.7 380.4,54.7Z"/>
<path fill="#9a5420" stroke="#9a5420" stroke-width="2.2" stroke-linejoin="round" d="M380.4,56.0 C381.5,54.7 384.1,57.5 386.2,58.2 C388.3,59.0 390.4,59.7 393.1,60.5 C395.8,61.3 400.1,61.3 402.4,62.8 C404.7,64.3 406.6,67.7 407.0,69.7 C407.4,71.7 407.0,74.6 405.0,75.0 C403.0,75.4 398.3,72.8 395.0,72.0 C391.7,71.2 387.6,71.0 385.0,70.0 C382.4,69.0 380.3,68.3 379.5,66.0 C378.7,63.7 379.3,57.3 380.4,56.0Z"/>
<path fill="#6ec4d4" stroke="#6ec4d4" stroke-width="2.2" stroke-linejoin="round" d="M377.0,67.4 C377.9,66.5 382.1,66.8 383.2,68.0 C384.3,69.2 384.8,73.4 383.9,74.3 C383.0,75.2 379.1,74.7 378.0,73.5 C376.9,72.3 376.1,68.3 377.0,67.4Z"/>
<path fill="#e6d6e0" stroke="#e6d6e0" stroke-width="2.2" stroke-linejoin="round" d="M413.9,106.7 C415.4,105.9 421.6,110.5 425.5,111.3 C429.4,112.1 433.9,112.1 437.0,111.3 C440.1,110.5 442.4,106.3 444.0,106.7 C445.6,107.1 447.1,111.5 446.3,113.6 C445.5,115.7 442.4,118.2 439.3,119.4 C436.2,120.6 431.7,121.2 427.8,120.6 C423.9,120.0 418.5,118.2 416.2,115.9 C413.9,113.6 412.3,107.5 413.9,106.7Z"/>
<path fill="#da171e" stroke="#da171e" stroke-width="2.2" stroke-linejoin="round" d="M407.0,69.7 C408.5,67.4 411.2,67.4 413.9,67.4 C416.6,67.4 420.1,68.9 423.2,69.7 C426.3,70.5 429.7,70.8 432.4,72.0 C435.1,73.2 437.4,74.3 439.3,76.6 C441.2,78.9 442.8,82.4 444.0,85.9 C445.2,89.4 446.3,93.8 446.3,97.4 C446.3,101.0 445.6,105.1 444.0,107.7 C442.4,110.3 440.1,112.0 437.0,113.0 C433.9,114.0 429.4,114.3 425.5,113.5 C421.6,112.7 417.4,110.0 413.9,108.2 C410.4,106.4 406.6,105.2 404.7,102.6 C402.8,100.0 402.4,96.3 402.4,92.8 C402.4,89.2 403.9,85.1 404.7,81.3 C405.5,77.5 405.5,72.0 407.0,69.7Z"/>
<path fill="#7a2c9e" stroke="#7a2c9e" stroke-width="2.2" stroke-linejoin="round" d="M439.3,76.6 C439.3,73.9 441.7,71.2 444.0,69.7 C446.3,68.2 450.1,68.2 453.2,67.4 C456.3,66.6 459.7,65.9 462.4,65.1 C465.1,64.3 467.5,62.4 469.4,62.8 C471.3,63.2 473.0,65.5 474.0,67.4 C475.0,69.3 475.4,71.2 475.2,74.3 C475.0,77.4 474.1,82.4 472.8,85.9 C471.5,89.4 469.6,92.4 467.1,95.1 C464.6,97.8 461.3,100.2 457.8,102.1 C454.3,104.0 448.2,107.5 446.3,106.7 C444.4,105.9 446.7,100.9 446.3,97.4 C445.9,93.9 445.2,89.4 444.0,85.9 C442.8,82.4 439.3,79.3 439.3,76.6Z"/>
<path fill="#ffffff" stroke="#ffffff" stroke-width="0" stroke-linejoin="round" d="M420.0,60.0 C420.8,58.5 423.6,57.4 425.5,57.5 C427.4,57.6 430.1,59.0 431.2,60.5 C432.3,62.0 432.9,65.2 432.0,66.5 C431.1,67.8 427.9,68.5 426.0,68.5 C424.1,68.5 421.5,67.9 420.5,66.5 C419.5,65.1 419.2,61.5 420.0,60.0Z"/>
</g>
<!-- View icon -->
<g stroke="#000" stroke-width="1.1" stroke-linejoin="round">
  <path fill="#70b9cd" d="M290.7,95.4 L293,111.2 A10.4,2.3 0 0 0 313.8,111.6 L315.5,95.6 Z"/>
  <ellipse cx="303.1" cy="95.5" rx="12.4" ry="3.0" fill="#86c7d8"/>
  <g transform="rotate(-5 328 94)">
  <path fill="#70b9cd" d="M316.2,94.2 L317.9,109 A10.6,2.3 0 0 0 339.3,109 L340.2,94.2 Z"/>
  <ellipse cx="328.2" cy="94.2" rx="12" ry="2.9" fill="#86c7d8"/>
  </g>
</g>
<rect x="310" y="45.8" width="2.6" height="17" fill="#000"/>
<polygon points="306.9,62 316.4,62 311.7,71.8" fill="#000"/>
<path d="M305.1,86.5 C305,78 311,74.5 315.5,75.5 C319,76.3 321.6,79 322.4,83" fill="none" stroke="#000" stroke-width="1.6"/>
<polygon points="318.8,82.6 326.6,82.6 322.6,90.8" fill="#000"/>

<!-- label lines -->
<g stroke="#000" stroke-width="2.3">
  <line x1="270" y1="34.6" x2="280.4" y2="22.6"/>
  <line x1="166.4" y1="102.5" x2="178" y2="93.3"/>
  <line x1="248.6" y1="114.6" x2="259.4" y2="126"/>
  <line x1="368.5" y1="31.2" x2="393" y2="42.8"/>
  <line x1="447.8" y1="8.5" x2="430.9" y2="25.4"/>
  <line x1="470.8" y1="53.2" x2="484" y2="50.9"/>
  <line x1="373.1" y1="96.2" x2="386.2" y2="87"/>
  <line x1="397.7" y1="115.5" x2="415.5" y2="101.6"/>
  <line x1="474.1" y1="88.7" x2="486.2" y2="98.3"/>
</g>
<g font-family="Liberation Sans, sans-serif" font-weight="bold" font-size="9.3" stroke-width="0.35">
  <text x="273.0" y="19.7" fill="#70b4c0" stroke="#70b4c0">Exosc1</text>
  <text x="141.4" y="114.4" fill="#ac9c7c" stroke="#ac9c7c">Exosc3</text>
  <text x="251.6" y="134.9" fill="#aa729c" stroke="#aa729c">Exosc2</text>
  <text x="338.8" y="27.8" fill="#d4c24a" stroke="#d4c24a">Exosc8</text>
  <text x="448.8" y="6.5" fill="#5f9a4c" stroke="#5f9a4c">Exosc5</text>
  <text x="488.0" y="51.6" fill="#3a3c8c" stroke="#3a3c8c">Exosc9</text>
  <text x="354.4" y="105.3" fill="#cf9878" stroke="#cf9878">Exosc6</text>
  <text x="371.2" y="127.5" fill="#a8102c" stroke="#a8102c">Exosc7</text>
  <text x="482.4" y="108.2" fill="#5e2468" stroke="#5e2468">Exosc4</text>
  <text x="302.3" y="43.3" fill="#000" stroke="#000" font-size="9.6">View</text>
</g>

</svg>
</body></html>
